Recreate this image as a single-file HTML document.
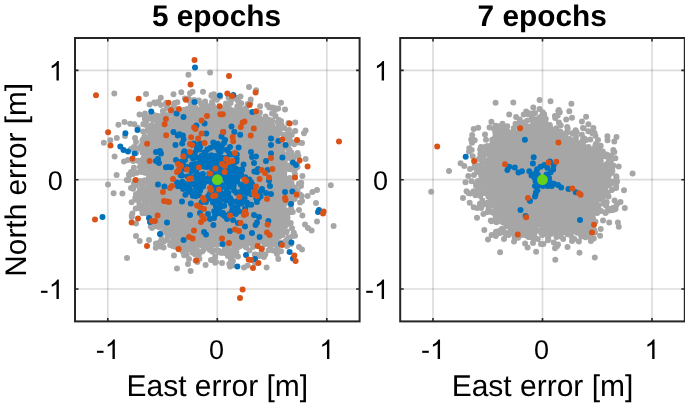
<!DOCTYPE html>
<html><head><meta charset="utf-8"><style>
html,body{margin:0;padding:0;background:#fff;overflow:hidden;}
svg{display:block;will-change:transform;}
text{font-family:"Liberation Sans", sans-serif;fill:#000;}
</style></head><body>
<svg width="685" height="406" viewBox="0 0 685 406" text-rendering="geometricPrecision">
<path d="M107.8 38.0V321.4M217.3 38.0V321.4M326.8 38.0V321.4" stroke="#262626" stroke-opacity="0.16" stroke-width="1.7" fill="none"/>
<path d="M75.0 289.0H359.6M75.0 179.7H359.6M75.0 70.4H359.6" stroke="#262626" stroke-opacity="0.16" stroke-width="1.7" fill="none"/>
<path d="M433.0 38.0V321.4M542.5 38.0V321.4M652.0 38.0V321.4" stroke="#262626" stroke-opacity="0.16" stroke-width="1.7" fill="none"/>
<path d="M400.2 289.0H684.8M400.2 179.7H684.8M400.2 70.4H684.8" stroke="#262626" stroke-opacity="0.16" stroke-width="1.7" fill="none"/>
<path d="M147.6 134.8L155.0 127.7L165.9 120.8L176.7 114.7L188.3 112.4L201.7 111.8L219.2 113.0L241.4 112.3L253.0 117.5L265.7 122.5L276.7 131.2L283.8 143.8L287.2 161.7L287.1 184.0L285.5 201.9L284.4 220.2L281.2 234.1L269.2 241.1L253.5 245.2L237.2 246.5L214.9 247.0L197.1 244.3L182.0 239.9L168.6 232.9L158.8 224.1L151.7 213.4L147.6 197.2L146.0 179.5L145.8 161.8L146.2 145.7Z" fill="#a6a6a6"/>
<path d="M171.7 178.7h0M207.3 206.3h0M269.3 107.6h0M277.9 167.6h0M257.0 131.5h0M194.8 129.3h0M205.1 178.8h0M167.7 131.9h0M165.0 172.3h0M226.8 204.7h0M147.1 149.9h0M276.9 209.6h0M180.5 195.0h0M270.9 164.3h0M156.7 188.1h0M253.7 210.4h0M193.6 168.7h0M218.0 228.8h0M220.3 160.6h0M214.6 96.2h0M197.0 121.2h0M223.7 243.3h0M167.5 181.9h0M174.3 188.0h0M273.1 182.8h0M227.7 166.4h0M161.6 180.3h0M213.7 154.2h0M188.3 186.3h0M239.1 199.4h0M157.4 194.4h0M282.6 232.3h0M274.4 136.2h0M279.0 210.1h0M263.3 135.2h0M145.0 201.6h0M155.8 139.3h0M255.2 171.5h0M183.9 174.9h0M218.4 128.0h0M235.8 235.6h0M256.5 119.4h0M249.1 187.4h0M219.5 130.5h0M243.7 160.9h0M230.4 147.9h0M282.1 145.9h0M229.4 121.4h0M218.1 157.9h0M188.5 127.4h0M248.4 167.6h0M179.2 179.5h0M164.0 210.4h0M286.5 212.6h0M164.0 225.4h0M234.8 239.9h0M192.4 151.2h0M225.9 109.5h0M276.6 151.3h0M237.6 229.4h0M194.2 192.0h0M208.8 140.1h0M269.0 237.5h0M178.8 135.9h0M212.3 108.7h0M179.1 196.6h0M207.3 146.5h0M250.9 208.1h0M172.4 186.9h0M181.2 134.6h0M207.0 206.4h0M181.1 148.9h0M180.4 150.2h0M224.6 193.5h0M234.1 134.4h0M225.9 103.6h0M241.3 142.5h0M270.0 178.3h0M275.3 147.6h0M178.7 249.2h0M278.9 223.1h0M251.2 122.5h0M204.2 118.9h0M255.8 209.2h0M272.9 188.2h0M224.1 241.7h0M208.0 161.0h0M187.0 136.7h0M276.7 161.4h0M198.4 199.4h0M216.7 205.8h0M205.2 212.5h0M258.9 133.2h0M215.6 175.8h0M166.2 164.0h0M175.4 205.4h0M286.6 146.2h0M280.4 156.8h0M253.3 221.3h0M233.8 242.6h0M157.3 135.4h0M164.8 191.8h0M256.2 152.6h0M219.3 120.2h0M272.9 202.2h0M245.7 215.0h0M195.0 233.1h0M204.2 120.2h0M184.6 113.4h0M199.7 111.9h0M170.4 223.7h0M277.9 127.6h0M224.2 139.4h0M232.2 135.4h0M250.1 231.0h0M214.8 242.5h0M265.7 192.0h0M195.1 141.3h0M261.7 187.5h0M150.0 179.6h0M229.8 146.1h0M217.1 154.2h0M207.3 144.9h0M198.1 229.6h0M250.1 178.1h0M243.5 157.8h0M234.5 247.1h0M277.7 163.4h0M156.2 200.7h0M222.2 154.6h0M199.2 243.4h0M232.0 220.9h0M289.3 223.5h0M261.5 204.3h0M243.7 202.5h0M199.5 202.4h0M279.9 226.8h0M274.2 198.2h0M188.9 137.8h0M254.6 245.7h0M261.3 165.8h0M190.0 207.3h0M251.4 162.1h0M251.1 198.1h0M163.2 127.8h0M287.1 138.6h0M277.0 183.6h0M192.4 181.5h0M259.8 120.8h0M255.6 235.3h0M174.4 198.9h0M167.5 190.3h0M185.3 130.4h0M182.9 167.4h0M264.4 230.0h0M159.8 201.8h0M172.9 184.2h0M191.1 224.0h0M169.0 218.1h0M256.5 145.1h0M144.5 161.3h0M143.3 124.1h0M234.3 248.3h0M142.4 161.7h0M194.2 120.8h0M167.4 236.2h0M231.1 128.5h0M255.8 149.4h0M183.5 158.8h0M231.2 253.6h0M286.0 225.3h0M148.8 172.9h0M278.7 251.4h0M175.1 111.8h0M250.7 240.7h0M246.3 160.0h0M233.1 152.9h0M235.8 190.2h0M200.5 126.3h0M286.1 166.1h0M255.6 222.6h0M257.0 224.1h0M210.9 156.5h0M206.1 113.7h0M197.3 216.3h0M182.3 114.0h0M272.7 242.5h0M202.7 134.4h0M227.0 149.4h0M187.0 229.7h0M300.0 194.4h0M244.4 170.4h0M253.3 185.8h0M289.1 238.2h0M153.7 156.6h0M220.4 108.2h0M244.2 146.5h0M179.6 153.4h0M184.5 223.5h0M216.7 184.1h0M293.8 232.8h0M220.8 192.9h0M261.6 155.0h0M228.0 251.5h0M200.2 219.8h0M173.6 109.9h0M240.7 184.2h0M242.7 121.7h0M280.1 216.7h0M248.6 187.4h0M161.8 223.2h0M266.0 182.0h0M214.1 162.5h0M159.7 144.0h0M225.9 184.0h0M224.2 235.9h0M181.3 144.4h0M217.7 194.8h0M228.6 156.2h0M279.9 158.9h0M210.0 231.9h0M193.2 223.6h0M213.1 150.6h0M208.5 111.6h0M219.0 221.9h0M251.5 167.7h0M267.2 177.0h0M255.9 178.0h0M143.9 188.9h0M247.9 112.0h0M176.0 175.9h0M247.4 143.1h0M217.9 251.2h0M177.8 178.2h0M288.8 187.4h0M264.0 150.7h0M174.0 186.7h0M205.6 225.5h0M279.2 131.5h0M254.2 163.9h0M236.4 117.3h0M200.7 140.5h0M252.3 138.3h0M164.2 156.1h0M211.1 150.9h0M235.8 123.1h0M286.0 213.9h0M243.0 234.7h0M288.1 146.8h0M185.4 113.6h0M253.6 190.7h0M250.3 131.0h0M161.5 191.5h0M286.8 165.7h0M150.5 135.4h0M265.9 211.6h0M143.9 147.1h0M169.3 211.3h0M175.1 182.2h0M272.1 204.5h0M279.3 198.3h0M284.3 162.7h0M249.3 200.9h0M221.6 190.9h0M223.0 160.7h0M289.4 203.0h0M134.9 181.0h0M164.3 167.9h0M224.9 135.3h0M174.6 184.8h0M211.6 162.4h0M144.0 157.1h0M224.6 187.4h0M279.4 219.0h0M249.9 118.6h0M186.4 248.3h0M280.4 158.6h0M205.5 111.9h0M174.4 209.0h0M271.3 197.9h0M242.7 158.2h0M227.8 247.3h0M267.6 196.9h0M131.8 215.6h0M218.0 154.1h0M244.8 233.0h0M275.0 134.4h0M272.9 133.4h0M227.9 154.3h0M182.4 246.7h0M178.8 235.5h0M205.7 214.8h0M241.2 182.9h0M156.5 204.8h0M214.2 151.4h0M255.0 263.6h0M157.0 217.8h0M245.2 229.9h0M209.4 174.4h0M215.2 227.8h0M257.4 125.3h0M205.6 186.9h0M152.4 157.6h0M158.5 226.6h0M271.0 142.1h0M241.0 221.3h0M292.0 186.2h0M291.0 208.2h0M168.8 228.2h0M232.1 181.8h0M203.2 231.6h0M251.4 206.7h0M223.2 134.9h0M195.8 190.1h0M242.4 175.8h0M304.0 133.3h0M201.0 196.3h0M222.8 170.4h0M216.8 164.9h0M155.7 161.0h0M196.2 126.5h0M274.5 154.7h0M152.7 191.3h0M279.6 229.2h0M238.8 220.4h0M186.5 116.3h0M171.7 152.8h0M176.1 173.8h0M161.0 232.9h0M161.3 167.0h0M284.6 193.2h0M226.4 160.3h0M160.8 201.7h0M261.6 158.7h0M249.9 195.6h0M148.6 186.3h0M177.3 208.1h0M166.2 216.6h0M188.6 185.8h0M209.8 142.4h0M273.3 195.9h0M237.6 224.6h0M182.8 234.8h0M300.1 202.4h0M281.3 203.1h0M170.0 127.8h0M217.9 112.5h0M254.5 236.0h0M195.2 254.4h0M256.1 136.1h0M264.7 157.9h0M213.2 199.6h0M174.0 204.0h0M202.1 139.1h0M227.4 171.3h0M142.2 211.0h0M202.3 169.2h0M218.3 183.4h0M161.1 154.7h0M277.6 122.3h0M290.9 141.5h0M279.1 205.4h0M197.2 251.3h0M212.3 166.5h0M232.7 147.2h0M152.3 195.3h0M280.7 140.2h0M269.0 228.3h0M230.3 111.1h0M192.4 188.5h0M241.7 194.1h0M213.7 203.3h0M280.0 170.0h0M216.5 234.4h0M144.7 147.1h0M236.4 97.7h0M240.4 236.1h0M230.0 200.5h0M173.9 105.7h0M257.9 137.5h0M163.5 140.1h0M212.9 221.5h0M205.9 155.4h0M262.2 248.0h0M232.7 208.5h0M284.7 166.2h0M148.8 194.9h0M147.4 138.2h0M163.3 142.1h0M214.8 156.7h0M196.7 206.7h0M160.7 123.1h0M211.7 95.1h0M253.4 233.3h0M225.7 179.7h0M212.4 211.4h0M230.4 242.7h0M207.4 174.4h0M277.3 210.6h0M221.0 190.7h0M272.4 198.5h0M172.4 145.9h0M239.5 158.9h0M205.0 204.6h0M190.2 229.9h0M232.8 230.3h0M284.3 127.9h0M236.2 132.2h0M265.2 180.2h0M230.0 155.7h0M178.8 165.4h0M221.3 172.7h0M240.2 134.1h0M197.2 128.2h0M181.2 179.1h0M226.4 245.8h0M183.1 197.9h0M231.8 142.7h0M225.3 139.9h0M215.0 179.7h0M284.3 223.4h0M218.6 114.0h0M281.0 102.7h0M223.4 149.9h0M161.6 143.3h0M225.8 135.5h0M167.7 128.3h0M207.8 149.7h0M242.1 225.8h0M165.0 122.2h0M232.9 169.3h0M270.2 208.7h0M165.2 141.6h0M171.1 165.8h0M160.6 152.9h0M208.1 245.8h0M237.6 244.0h0M195.7 166.4h0M291.7 198.1h0M263.1 156.6h0M208.5 153.3h0M197.5 174.4h0M228.7 245.3h0M255.2 117.5h0M239.8 114.9h0M139.6 199.3h0M243.0 121.4h0M281.6 145.8h0M203.4 188.3h0M250.3 103.2h0M160.1 154.0h0M282.0 229.4h0M246.8 151.5h0M174.6 199.7h0M280.2 148.9h0M198.7 154.7h0M192.5 248.6h0M166.7 146.1h0M218.5 250.5h0M290.4 186.9h0M284.5 193.8h0M211.9 181.7h0M190.1 167.7h0M149.4 127.9h0M236.6 211.0h0M160.9 151.6h0M230.2 239.3h0M247.7 265.4h0M182.8 176.0h0M227.3 115.0h0M287.9 192.4h0M201.0 103.7h0M245.5 243.1h0M182.3 238.7h0M171.2 145.2h0M244.7 191.1h0M230.4 198.7h0M248.6 148.1h0M189.4 161.3h0M220.6 191.4h0M284.9 161.1h0M207.2 238.4h0M170.3 222.2h0M228.0 179.0h0M260.8 120.3h0M205.1 212.7h0M246.2 144.7h0M154.5 169.3h0M181.4 189.1h0M203.2 172.1h0M226.0 121.1h0M269.1 141.0h0M146.8 158.3h0M259.4 200.4h0M205.4 235.2h0M206.0 238.8h0M195.9 169.5h0M158.3 170.5h0M292.0 228.3h0M234.4 122.9h0M267.0 189.5h0M217.9 120.1h0M224.0 166.6h0M287.5 222.1h0M236.8 130.8h0M273.4 129.3h0M183.9 140.6h0M260.6 144.6h0M231.4 146.4h0M262.8 121.8h0M206.6 172.2h0M223.5 185.9h0M182.9 236.9h0M257.4 147.6h0M233.4 172.9h0M213.7 160.8h0M223.1 129.6h0M169.1 126.4h0M233.8 134.4h0M191.2 196.4h0M245.9 163.4h0M269.0 242.1h0M166.1 161.3h0M252.8 209.6h0M157.1 159.8h0M267.8 239.6h0M195.4 216.8h0M178.7 167.8h0M153.0 185.4h0M151.4 168.4h0M224.2 203.9h0M232.0 114.0h0M186.1 231.5h0M253.5 147.2h0M150.1 154.5h0M156.9 132.6h0M215.9 177.5h0M228.4 116.3h0M191.0 115.4h0M288.5 152.7h0M212.0 184.6h0M287.4 218.3h0M270.9 235.0h0M220.7 206.4h0M247.1 116.3h0M193.0 152.8h0M262.4 163.8h0M192.4 188.2h0M237.8 191.5h0M201.0 243.2h0M252.2 207.9h0M220.7 194.5h0M188.9 239.9h0M169.9 204.2h0M204.9 117.3h0M211.4 95.7h0M211.0 197.7h0M142.7 186.3h0M212.4 220.9h0M283.5 156.4h0M145.3 206.8h0M218.8 252.3h0M181.2 199.2h0M229.9 190.2h0M175.6 200.8h0M205.1 138.5h0M212.4 185.5h0M174.2 121.8h0M254.2 171.6h0M232.1 123.3h0M218.3 207.6h0M264.0 209.0h0M200.7 212.3h0M234.2 175.5h0M240.3 145.2h0M288.4 237.4h0M278.5 230.8h0M224.0 144.6h0M280.7 169.9h0M265.8 201.2h0M136.9 172.8h0M228.5 110.8h0M235.8 203.8h0M236.8 184.8h0M232.8 211.2h0M268.6 119.7h0M251.3 190.6h0M173.8 114.8h0M170.4 242.5h0M176.7 175.0h0M204.9 234.2h0M158.9 226.9h0M241.5 236.8h0M203.6 241.3h0M189.9 153.8h0M283.8 148.0h0M172.2 213.3h0M271.1 213.1h0M208.6 244.1h0M287.2 215.1h0M219.4 108.4h0M230.2 122.5h0M190.6 204.8h0M233.8 249.2h0M226.3 165.7h0M263.1 201.7h0M178.5 200.1h0M241.9 126.7h0M174.7 196.4h0M173.4 237.9h0M266.0 171.4h0M262.3 141.3h0M272.0 162.9h0M215.0 239.9h0M188.6 98.5h0M223.4 200.9h0M280.6 242.6h0M239.9 246.2h0M253.4 146.0h0M284.8 229.9h0M169.2 119.5h0M162.1 120.2h0M182.9 251.8h0M253.2 146.0h0M165.2 203.8h0M218.6 231.6h0M206.6 105.8h0M167.3 183.7h0M255.8 189.4h0M223.9 125.0h0M169.5 128.9h0M236.0 251.8h0M188.9 141.9h0M207.7 144.8h0M170.1 244.9h0M250.5 209.3h0M166.6 175.1h0M278.3 259.1h0M172.4 187.1h0M284.9 184.8h0M222.6 140.4h0M157.9 175.8h0M197.1 250.6h0M165.1 161.3h0M286.1 219.9h0M277.2 246.6h0M251.1 114.2h0M196.3 139.1h0M229.2 124.8h0M220.3 185.4h0M246.3 245.5h0M186.8 175.0h0M218.7 156.1h0M274.5 194.1h0M279.9 169.4h0M228.6 157.8h0M238.6 109.8h0M234.8 233.5h0M239.5 226.3h0M287.5 210.8h0M232.9 226.8h0M250.8 217.7h0M258.5 177.6h0M239.4 208.3h0M165.1 222.0h0M156.2 156.8h0M241.5 228.6h0M207.9 234.1h0M211.4 208.5h0M277.5 190.6h0M227.9 256.1h0M223.4 200.4h0M279.6 217.1h0M238.5 119.8h0M278.4 198.1h0M255.8 163.7h0M218.6 139.1h0M186.7 254.8h0M277.3 223.7h0M154.6 167.2h0M277.9 181.1h0M217.9 180.2h0M177.3 152.5h0M254.5 245.0h0M177.4 154.5h0M224.7 247.9h0M173.2 246.2h0M152.8 159.0h0M244.8 230.0h0M260.7 127.8h0M189.0 166.6h0M254.8 219.9h0M204.8 138.2h0M167.7 200.1h0M179.7 241.4h0M198.2 177.6h0M192.4 118.6h0M291.5 169.5h0M203.0 243.1h0M236.8 228.5h0M292.9 189.4h0M176.0 218.5h0M198.6 186.9h0M173.3 159.0h0M144.3 161.0h0M258.0 146.3h0M241.6 142.4h0M252.1 168.7h0M232.0 225.9h0M252.1 225.3h0M250.6 206.2h0M202.5 221.2h0M264.5 152.6h0M272.7 182.4h0M237.1 236.8h0M155.4 191.9h0M257.3 194.2h0M267.6 160.2h0M297.1 163.9h0M156.2 160.6h0M246.4 180.1h0M242.5 198.1h0M258.4 233.3h0M260.3 119.2h0M174.2 139.5h0M247.9 231.9h0M274.1 108.1h0M285.2 244.2h0M276.7 161.5h0M218.8 232.1h0M247.3 148.7h0M165.9 204.5h0M267.5 181.2h0M248.0 139.6h0M193.3 225.4h0M165.8 199.7h0M167.1 239.7h0M148.3 209.4h0M239.2 110.8h0M179.0 182.2h0M161.4 127.9h0M278.0 133.8h0M150.7 226.4h0M271.3 139.9h0M165.1 166.4h0M151.0 209.0h0M246.9 232.1h0M154.5 139.2h0M278.2 148.8h0M261.7 191.3h0M152.3 130.2h0M290.1 196.5h0M252.7 136.9h0M250.9 156.5h0M270.5 151.7h0M232.7 213.3h0M279.6 130.5h0M188.3 141.1h0M156.3 224.5h0M223.0 241.1h0M202.5 200.9h0M279.1 174.9h0M245.7 129.0h0M181.5 189.7h0M171.0 205.7h0M180.6 114.6h0M183.8 140.2h0M216.0 137.8h0M178.0 232.5h0M186.1 117.4h0M195.9 210.2h0M155.8 247.8h0M220.7 145.1h0M201.0 110.3h0M253.4 113.9h0M169.2 153.7h0M204.5 217.1h0M220.2 96.8h0M206.2 120.8h0M272.9 223.0h0M272.2 200.2h0M163.3 231.2h0M194.5 168.2h0M232.6 177.2h0M162.2 181.5h0M244.7 229.1h0M249.2 129.6h0M267.4 140.9h0M263.3 213.9h0M180.9 143.6h0M126.8 180.1h0M194.8 108.1h0M249.5 204.4h0M222.1 218.8h0M165.3 162.9h0M200.8 119.2h0M141.8 171.0h0M280.9 208.6h0M160.1 196.5h0M275.2 134.8h0M178.5 136.6h0M191.2 219.3h0M216.6 129.7h0M282.3 186.1h0M183.9 119.8h0M243.1 198.7h0M196.0 136.6h0M241.2 157.5h0M265.5 243.9h0M199.2 242.9h0M238.0 141.7h0M176.3 242.7h0M152.9 193.7h0M266.8 127.8h0M268.5 235.4h0M291.1 166.0h0M236.4 177.0h0M160.4 167.6h0M196.7 248.3h0M258.0 216.0h0M236.3 110.9h0M250.8 158.9h0M250.6 130.0h0M142.5 152.4h0M273.2 244.3h0M297.5 190.7h0M217.2 211.3h0M249.2 113.6h0M232.9 138.5h0M264.9 197.6h0M164.6 160.5h0M280.2 121.6h0M216.2 127.1h0M249.9 134.3h0M159.6 199.6h0M157.8 191.3h0M204.3 189.6h0M230.4 190.1h0M294.7 189.0h0M286.8 222.3h0M206.2 190.5h0M196.7 209.5h0M246.4 173.6h0M193.3 118.7h0M161.8 175.5h0M176.6 127.8h0M236.5 141.0h0M202.7 128.9h0M278.2 178.1h0M181.5 144.0h0M184.6 134.2h0M144.3 180.5h0M215.8 176.9h0M225.5 166.5h0M301.2 182.7h0M161.6 239.4h0M157.7 116.9h0M217.2 213.5h0M278.5 155.9h0M237.1 234.0h0M263.9 201.3h0M141.3 184.5h0M224.0 163.5h0M150.7 187.3h0M269.8 217.5h0M198.2 239.8h0M140.7 160.8h0M163.7 154.0h0M277.6 201.7h0M181.1 121.7h0M185.4 149.8h0M158.3 172.8h0M256.4 135.2h0M200.6 138.8h0M286.6 179.2h0M180.9 165.2h0M170.4 182.7h0M204.8 137.7h0M254.7 254.5h0M226.9 245.2h0M153.2 114.5h0M256.1 217.4h0M181.6 114.7h0M190.9 170.3h0M178.5 175.1h0M280.4 179.4h0M255.2 233.4h0M280.9 200.3h0M158.6 129.6h0M188.5 112.6h0M226.8 127.2h0M270.5 185.9h0M270.1 215.9h0M203.9 154.1h0M288.4 123.1h0M282.1 212.7h0M171.1 160.4h0M192.4 148.8h0M219.5 197.0h0M259.9 152.3h0M146.8 149.3h0M180.7 209.3h0M249.2 124.9h0M254.1 200.0h0M154.7 193.7h0M227.2 191.9h0M170.3 173.9h0M217.1 222.7h0M290.2 191.2h0M222.4 123.8h0M254.2 124.5h0M188.5 133.3h0M221.4 206.0h0M227.2 120.2h0M168.0 129.9h0M224.7 131.6h0M185.9 220.4h0M233.7 98.5h0M182.0 144.1h0M195.4 143.2h0M255.8 166.0h0M163.2 202.7h0M282.8 173.3h0M227.2 217.4h0M163.5 172.9h0M257.1 201.1h0M162.5 143.3h0M258.2 130.2h0M146.9 213.0h0M193.4 116.1h0M137.4 181.6h0M231.5 128.5h0M217.0 250.0h0M294.2 144.3h0M254.4 167.8h0M247.4 193.4h0M204.7 155.3h0M206.9 211.7h0M288.6 182.8h0M278.5 181.1h0M291.7 134.9h0M254.6 236.9h0M235.2 158.2h0M270.8 129.9h0M235.5 138.5h0M176.9 117.5h0M260.8 140.9h0M247.7 212.9h0M226.4 208.2h0M219.9 235.2h0M207.6 151.9h0M227.3 128.6h0M195.2 151.0h0M272.0 120.6h0M229.1 165.4h0M276.2 235.5h0M196.2 113.0h0M164.3 194.6h0M276.5 174.6h0M224.2 124.5h0M240.5 108.8h0M219.5 229.7h0M233.4 149.6h0M245.8 245.0h0M183.1 245.2h0M274.0 169.7h0M191.6 227.2h0M221.1 175.1h0M156.9 211.2h0M244.2 117.6h0M208.7 115.4h0M290.7 180.6h0M236.8 223.3h0M224.6 205.4h0M249.7 168.2h0M176.3 113.2h0M268.2 168.9h0M153.4 160.1h0M239.9 210.2h0M188.6 131.0h0M153.6 195.9h0M249.4 250.5h0M185.5 232.4h0M241.2 219.4h0M247.7 103.9h0M282.6 188.1h0M249.8 208.2h0M190.0 237.1h0M202.4 238.2h0M216.9 109.0h0M246.0 117.2h0M265.3 197.2h0M184.9 233.3h0M238.0 207.6h0M269.4 171.1h0M144.5 136.4h0M242.6 132.8h0M265.5 122.0h0M160.8 155.7h0M241.5 138.8h0M142.3 144.2h0M272.7 187.5h0M197.4 261.9h0M178.8 174.1h0M192.5 128.0h0M220.0 230.2h0M242.5 115.4h0M252.8 223.3h0M256.2 178.0h0M259.9 170.5h0M237.8 205.0h0M192.9 127.0h0M219.8 221.9h0M185.0 238.7h0M284.1 204.6h0M180.5 235.2h0M245.7 157.3h0M277.2 196.6h0M180.8 232.3h0M253.1 246.9h0M279.2 171.6h0M161.1 115.9h0M276.5 153.6h0M253.6 222.7h0M218.6 139.9h0M215.0 238.7h0M203.4 171.7h0M286.8 239.8h0M218.6 162.0h0M160.1 126.6h0M171.3 219.4h0M229.4 123.6h0M150.4 163.8h0M209.8 206.9h0M203.2 244.4h0M164.9 222.2h0M155.0 222.7h0M291.6 183.2h0M199.3 149.0h0M149.7 203.0h0M191.6 182.2h0M265.7 121.9h0M260.6 232.5h0M250.3 219.0h0M192.7 145.9h0M197.9 168.6h0M241.6 213.8h0M203.2 193.2h0M235.8 143.1h0M272.4 152.0h0M211.8 240.6h0M249.9 190.6h0M200.0 138.8h0M237.9 242.4h0M212.8 105.3h0M256.7 172.3h0M183.9 127.5h0M183.8 174.0h0M220.3 170.5h0M186.2 222.0h0M214.3 97.5h0M178.4 144.1h0M204.0 244.1h0M147.0 156.8h0M162.2 219.4h0M289.7 143.2h0M206.3 146.4h0M240.1 115.1h0M152.4 176.9h0M156.4 140.8h0M165.1 227.2h0M247.3 127.7h0M247.8 173.0h0M211.0 166.6h0M255.8 179.5h0M185.6 251.4h0M258.3 239.4h0M145.8 192.1h0M290.8 158.7h0M259.2 129.6h0M151.8 190.1h0M238.0 256.5h0M243.1 113.0h0M242.8 164.8h0M197.2 164.3h0M275.5 241.4h0M261.2 168.1h0M205.6 201.2h0M236.3 171.9h0M212.5 243.5h0M185.8 202.0h0M267.8 120.5h0M202.2 200.6h0M284.7 161.0h0M214.0 160.1h0M182.4 142.1h0M150.5 191.2h0M150.6 116.0h0M168.7 158.1h0M282.1 200.6h0M144.9 181.8h0M267.2 236.0h0M203.4 113.9h0M220.4 191.5h0M264.5 156.0h0M189.0 169.2h0M202.2 210.7h0M205.4 157.7h0M184.0 131.9h0M211.9 131.9h0M209.1 222.2h0M196.7 232.1h0M266.6 234.0h0M180.3 226.9h0M238.0 120.1h0M243.6 242.8h0M177.1 183.7h0M152.4 126.9h0M183.7 170.1h0M216.9 216.2h0M289.5 183.4h0M207.8 178.0h0M173.5 94.2h0M192.8 123.6h0M184.9 98.5h0M170.3 219.4h0M213.2 218.8h0M161.5 153.2h0M262.0 230.1h0M151.4 125.3h0M207.0 199.7h0M283.5 134.7h0M141.1 146.3h0M170.6 141.2h0M286.7 202.3h0M209.9 115.2h0M161.0 105.0h0M153.2 134.2h0M180.2 197.5h0M195.7 110.2h0M208.1 207.7h0M197.2 128.6h0M186.0 117.6h0M183.9 110.0h0M294.9 174.3h0M216.3 224.6h0M271.9 243.0h0M187.5 125.8h0M147.2 164.6h0M201.9 114.5h0M195.6 160.7h0M238.2 182.4h0M235.2 220.6h0M263.0 126.3h0M211.6 227.6h0M183.1 189.7h0M284.7 184.5h0M220.9 214.7h0M260.5 160.6h0M156.2 136.9h0M199.4 216.0h0M198.9 100.5h0M200.0 224.2h0M250.1 162.0h0M152.0 151.0h0M223.3 218.0h0M188.9 216.2h0M173.1 172.0h0M246.7 137.7h0M221.6 166.0h0M168.3 153.2h0M210.2 149.7h0M263.9 230.3h0M143.1 139.3h0M196.1 153.5h0M246.1 240.5h0M260.9 253.8h0M227.0 231.8h0M161.6 140.4h0M201.3 211.4h0M280.1 142.7h0M276.1 164.1h0M253.1 176.2h0M219.2 154.6h0M204.8 143.1h0M236.1 187.3h0M194.7 114.5h0M247.6 189.3h0M276.1 197.6h0M207.4 149.0h0M268.3 206.0h0M240.0 245.3h0M274.5 191.4h0M232.5 240.2h0M226.2 146.1h0M265.5 116.4h0M192.3 187.9h0M162.8 186.9h0M151.4 147.0h0M205.8 238.8h0M164.5 130.4h0M236.6 152.5h0M204.3 226.5h0M243.2 133.5h0M232.3 216.6h0M186.1 248.3h0M295.2 122.6h0M165.0 207.6h0M271.6 134.1h0M288.2 194.8h0M194.4 121.3h0M277.7 235.7h0M177.7 152.9h0M169.4 215.7h0M258.9 131.5h0M174.2 234.8h0M268.3 177.8h0M200.2 126.7h0M219.0 184.7h0M182.7 132.2h0M223.8 165.9h0M224.6 225.8h0M224.8 128.3h0M221.2 223.0h0M256.0 242.0h0M235.4 224.2h0M242.1 109.6h0M249.1 143.0h0M270.6 156.1h0M270.6 134.6h0M159.8 242.3h0M249.8 222.1h0M215.1 136.3h0M210.0 127.2h0M177.2 132.1h0M151.2 150.6h0M248.9 199.1h0M231.5 170.9h0M248.3 157.2h0M182.3 131.2h0M197.2 222.8h0M249.7 207.7h0M150.0 153.2h0M151.3 179.6h0M206.8 161.6h0M183.3 127.6h0M195.7 161.8h0M194.5 110.8h0M279.5 236.2h0M209.1 224.7h0M195.2 241.4h0M176.3 122.6h0M216.0 222.5h0M221.6 253.0h0M289.2 141.5h0M179.6 181.0h0M270.4 209.1h0M283.4 170.4h0M163.7 125.4h0M190.2 158.8h0M133.1 161.0h0M251.9 172.6h0M169.2 232.7h0M209.9 150.2h0M214.3 114.5h0M202.8 124.1h0M227.6 157.9h0M284.9 210.0h0M252.7 134.1h0M213.6 151.2h0M236.6 204.9h0M212.4 172.2h0M210.5 167.0h0M199.3 109.4h0M270.8 145.3h0M240.5 115.6h0M182.3 146.1h0M232.4 265.5h0M161.0 173.2h0M257.4 239.8h0M145.3 166.5h0M150.6 214.9h0M193.6 151.8h0M290.9 244.1h0M278.8 119.9h0M212.9 201.1h0M264.2 199.5h0M204.6 204.2h0M212.7 197.1h0M180.2 233.9h0M172.1 152.7h0M186.0 155.7h0M172.5 142.8h0M266.5 143.0h0M280.0 210.1h0M222.1 252.0h0M229.6 183.6h0M177.3 189.3h0M166.3 207.1h0M151.6 218.3h0M235.9 228.7h0M268.5 250.3h0M193.5 240.3h0M235.0 242.3h0M220.8 107.6h0M240.7 173.8h0M235.0 157.6h0M188.0 142.9h0M279.1 163.2h0M185.5 116.0h0M287.0 157.0h0M259.1 137.8h0M161.4 156.9h0M181.9 196.1h0M209.2 192.6h0M259.3 202.0h0M218.9 128.6h0M289.4 197.7h0M259.0 213.6h0M227.3 173.4h0M231.1 251.1h0M168.5 127.4h0M157.8 224.2h0M167.3 204.7h0M214.3 213.1h0M240.0 111.6h0M241.7 227.5h0M220.2 144.5h0M248.3 187.4h0M241.8 146.8h0M152.0 179.5h0M253.1 121.6h0M266.9 200.0h0M243.6 185.5h0M209.1 191.3h0M230.0 193.1h0M160.4 209.5h0M229.6 186.1h0M230.4 193.8h0M205.5 225.0h0M205.4 230.0h0M222.5 195.3h0M180.6 138.7h0M258.6 217.9h0M204.7 134.2h0M171.4 211.7h0M265.5 151.0h0M292.8 158.5h0M204.5 160.7h0M229.5 227.5h0M237.8 225.0h0M205.7 152.2h0M274.9 148.8h0M271.9 214.6h0M164.2 126.4h0M196.2 227.9h0M254.7 140.4h0M154.6 209.6h0M265.3 198.6h0M224.6 134.1h0M216.4 170.6h0M184.4 217.5h0M194.1 130.7h0M142.5 170.8h0M219.1 144.5h0M195.3 167.3h0M216.8 170.4h0M212.1 136.4h0M260.1 230.3h0M230.6 103.0h0M195.3 112.0h0M196.7 210.4h0M242.4 161.8h0M172.8 210.5h0M267.1 177.1h0M201.6 228.5h0M157.2 124.5h0M225.2 164.1h0M244.0 194.6h0M267.4 224.2h0M195.1 215.4h0M215.2 235.2h0M268.1 165.3h0M179.0 247.0h0M187.6 134.3h0M153.3 146.9h0M195.5 187.3h0M167.9 184.0h0M225.7 253.3h0M195.6 260.8h0M281.5 192.2h0M227.9 147.0h0M240.2 129.7h0M205.0 122.3h0M228.9 218.7h0M265.7 184.3h0M184.5 207.0h0M236.6 129.9h0M238.1 144.9h0M261.6 121.7h0M273.0 211.5h0M216.2 219.0h0M181.2 119.0h0M247.2 184.9h0M258.4 236.3h0M263.7 167.0h0M192.1 210.7h0M246.3 212.5h0M219.9 159.2h0M218.7 161.9h0M205.1 198.4h0M219.3 139.2h0M212.7 123.2h0M166.1 141.8h0M281.0 251.3h0M160.1 157.6h0M152.3 151.1h0M237.7 151.1h0M202.3 218.8h0M155.3 179.7h0M210.7 247.0h0M164.3 197.3h0M150.7 135.0h0M220.6 192.2h0M200.2 243.3h0M273.6 180.4h0M270.1 208.7h0M204.0 186.4h0M174.2 223.9h0M179.0 132.9h0M224.8 149.4h0M226.8 222.0h0M200.6 187.5h0M225.9 224.8h0M206.9 211.2h0M160.2 224.7h0M241.3 198.0h0M247.2 159.4h0M272.3 180.4h0M175.1 191.2h0M265.5 189.9h0M207.8 158.3h0M197.2 100.8h0M189.7 219.7h0M209.1 174.2h0M253.4 118.8h0M232.7 212.1h0M284.8 157.3h0M144.6 213.1h0M202.6 235.5h0M165.9 122.3h0M234.0 200.9h0M210.5 109.1h0M283.6 224.4h0M249.4 192.5h0M223.7 234.7h0M232.9 133.0h0M195.5 199.6h0M173.8 119.7h0M188.1 122.9h0M278.0 205.6h0M231.1 198.6h0M225.3 112.8h0M162.0 201.5h0M270.5 217.9h0M235.6 122.2h0M245.4 124.7h0M231.6 252.5h0M285.5 144.7h0M199.0 147.1h0M154.2 172.6h0M195.2 107.5h0M282.5 234.9h0M179.6 154.2h0M253.1 209.7h0M279.1 224.3h0M223.7 204.9h0M275.6 167.3h0M172.9 185.6h0M291.3 202.6h0M246.6 232.8h0M246.2 230.5h0M282.5 215.6h0M135.7 208.5h0M281.0 120.9h0M239.8 246.0h0M215.4 202.0h0M224.0 133.4h0M184.5 122.3h0M290.6 182.2h0M205.1 174.8h0M257.5 120.0h0M253.6 149.2h0M210.5 131.1h0M135.9 199.8h0M207.9 194.0h0M251.0 236.3h0M187.1 109.1h0M183.0 196.9h0M252.7 205.3h0M233.3 145.1h0M178.7 180.4h0M228.7 207.4h0M251.3 191.9h0M204.7 231.4h0M225.5 182.4h0M209.6 221.8h0M246.9 233.7h0M229.8 125.0h0M190.1 249.5h0M205.1 236.4h0M208.9 113.4h0M139.9 166.8h0M155.8 192.9h0M216.4 205.9h0M277.3 180.9h0M210.5 128.0h0M268.4 125.1h0M207.1 209.1h0M245.7 121.2h0M155.8 128.7h0M171.3 228.0h0M153.1 189.6h0M167.3 202.9h0M203.0 91.8h0M250.5 197.5h0M271.8 168.8h0M259.4 255.9h0M191.6 242.3h0M228.1 238.8h0M216.9 142.0h0M178.7 184.1h0M146.0 180.2h0M187.0 152.7h0M211.0 237.5h0M200.6 167.9h0M208.6 181.9h0M140.0 180.9h0M161.8 200.7h0M189.5 232.7h0M204.5 138.0h0M187.4 218.1h0M276.5 238.4h0M238.2 226.3h0M168.2 216.7h0M157.1 209.3h0M160.3 202.4h0M167.3 164.3h0M258.9 116.5h0M210.3 238.1h0M234.3 242.3h0M143.3 124.2h0M229.6 129.4h0M183.3 160.2h0M156.4 142.7h0M176.1 247.1h0M233.3 250.6h0M141.5 167.8h0M221.2 186.6h0M219.6 148.1h0M152.8 130.4h0M202.2 251.4h0M240.0 201.5h0M283.8 204.4h0M295.1 169.3h0M179.5 179.7h0M242.7 111.0h0M274.5 209.6h0M258.3 234.0h0M189.5 100.9h0M215.9 212.5h0M167.3 218.0h0M226.4 162.8h0M231.5 214.0h0M153.6 210.2h0M195.0 205.5h0M158.7 199.6h0M176.6 112.0h0M158.8 196.0h0M212.6 225.7h0M274.0 210.9h0M149.3 131.8h0M205.6 152.7h0M265.2 217.5h0M229.5 239.9h0M290.3 193.1h0M282.5 213.3h0M226.1 179.4h0M211.4 152.0h0M199.7 211.2h0M162.8 215.3h0M235.4 195.0h0M194.0 100.1h0M262.3 140.2h0M285.3 193.6h0M210.4 220.1h0M201.7 215.9h0M247.0 123.5h0M174.3 165.6h0M137.7 127.8h0M200.4 239.5h0M205.5 122.5h0M221.9 189.7h0M192.5 210.0h0M275.1 172.9h0M255.5 222.6h0M203.9 215.7h0M191.1 105.7h0M206.0 120.0h0M229.7 185.4h0M234.3 194.1h0M194.2 191.8h0M194.3 140.9h0M190.2 238.8h0M150.6 186.3h0M179.5 243.5h0M214.2 153.0h0M197.6 236.1h0M137.6 160.7h0M196.8 153.9h0M232.5 121.8h0M260.6 157.4h0M252.4 141.9h0M264.9 138.4h0M216.1 177.2h0M237.8 131.0h0M249.6 164.5h0M159.9 202.1h0M154.5 128.8h0M192.3 150.0h0M152.7 148.1h0M251.1 202.7h0M184.3 171.2h0M257.6 177.3h0M238.8 163.9h0M226.1 214.9h0M274.8 165.4h0M174.3 242.2h0M270.3 213.9h0M166.3 185.1h0M218.4 204.9h0M233.3 237.6h0M214.2 150.1h0M257.1 128.6h0M169.7 207.0h0M172.2 154.9h0M150.8 194.5h0M232.2 175.5h0M201.2 195.8h0M217.2 223.0h0M262.9 208.2h0M172.3 222.1h0M177.1 233.2h0M179.3 181.2h0M217.3 199.5h0M193.1 193.0h0M217.2 130.8h0M284.5 135.8h0M245.0 121.6h0M257.7 225.3h0M260.0 170.4h0M270.9 243.2h0M228.1 147.9h0M250.3 144.9h0M238.9 221.2h0M262.2 253.9h0M265.3 216.4h0M204.8 211.3h0M173.2 119.5h0M199.2 242.0h0M158.9 133.3h0M210.0 199.8h0M294.1 199.1h0M184.3 210.8h0M176.6 240.8h0M289.1 140.9h0M256.4 243.5h0M243.2 234.4h0M210.2 228.6h0M237.2 106.5h0M192.6 252.8h0M265.4 125.2h0M229.8 126.1h0M222.3 219.9h0M228.9 243.5h0M182.5 187.5h0M129.2 175.7h0M155.5 103.4h0M212.1 101.9h0M220.9 194.1h0M181.3 92.2h0M175.9 155.4h0M203.5 218.8h0M216.9 99.7h0M273.0 201.5h0M234.6 117.5h0M253.1 135.3h0M136.0 185.3h0M153.7 177.3h0M179.4 242.8h0M165.4 226.0h0M191.1 170.6h0M184.1 187.6h0M206.7 167.9h0M221.2 110.8h0M171.9 173.3h0M194.3 108.2h0M292.9 167.2h0M258.9 212.4h0M279.1 184.8h0M207.8 217.4h0M203.1 178.1h0M203.6 160.3h0M239.7 191.9h0M257.3 204.5h0M261.0 151.8h0M258.1 204.0h0M143.9 196.4h0M215.2 256.7h0M245.9 108.3h0M184.2 123.9h0M233.1 128.9h0M239.1 186.5h0M144.9 118.7h0M240.4 194.2h0M276.3 211.6h0M226.8 111.4h0M170.2 164.9h0M234.8 120.4h0M185.1 232.1h0M282.5 224.7h0M192.4 242.7h0M239.5 176.2h0M174.4 204.7h0M217.5 191.5h0M263.1 179.8h0M213.3 224.3h0M176.9 220.3h0M212.6 240.0h0M181.9 202.7h0M256.5 142.2h0M150.0 154.4h0M168.1 203.2h0M194.1 155.6h0M236.8 216.1h0M263.5 173.8h0M249.9 149.8h0M170.4 224.0h0M182.3 228.2h0M257.6 233.2h0M173.0 160.4h0M183.1 237.5h0M161.6 211.6h0M209.4 118.5h0M194.0 146.5h0M168.6 173.6h0M189.4 237.9h0M289.2 150.7h0M248.8 214.3h0M248.1 177.4h0M154.8 128.4h0M180.4 160.4h0M173.6 189.1h0M229.3 263.9h0M160.9 174.7h0M214.1 181.6h0M254.9 137.7h0M154.4 162.5h0M166.3 163.0h0M206.8 217.6h0M189.4 109.7h0M211.3 124.8h0M247.4 146.9h0M247.5 180.5h0M221.4 192.6h0M233.3 129.2h0M157.0 115.8h0M198.9 193.6h0M209.9 249.9h0M200.8 240.6h0M231.7 194.4h0M274.6 216.2h0M161.7 182.8h0M263.9 187.0h0M161.3 179.2h0M198.0 197.9h0M210.2 175.2h0M170.1 113.2h0M167.4 144.1h0M192.7 247.5h0M256.8 118.1h0M235.9 175.5h0M200.4 217.6h0M151.5 214.5h0M224.2 215.5h0M263.3 226.4h0M192.2 177.4h0M237.7 164.7h0M221.6 191.8h0M159.0 184.3h0M226.8 251.3h0M259.0 194.3h0M150.5 132.9h0M241.2 185.4h0M188.1 180.7h0M286.1 241.8h0M160.6 201.7h0M256.4 178.9h0M174.2 112.9h0M188.5 126.2h0M203.2 163.5h0M172.2 183.0h0M293.6 157.7h0M262.2 125.1h0M199.2 226.3h0M175.6 216.4h0M157.1 214.1h0M188.9 211.1h0M204.6 156.1h0M237.2 154.4h0M226.8 194.4h0M202.4 245.6h0M190.7 213.0h0M211.0 201.8h0M250.2 125.0h0M183.7 240.4h0M203.4 250.0h0M201.9 105.1h0M168.8 198.0h0M247.6 127.3h0M239.4 215.2h0M149.4 170.6h0M209.9 119.2h0M230.9 128.1h0M178.5 195.2h0M229.9 141.7h0M176.3 188.6h0M221.3 196.2h0M197.7 132.0h0M224.3 134.2h0M146.1 145.0h0M135.3 197.7h0M197.3 245.8h0M211.1 203.8h0M201.5 172.5h0M228.1 140.8h0M241.5 181.8h0M273.0 250.5h0M222.4 194.4h0M219.9 187.6h0M224.9 199.3h0M241.1 216.1h0M163.2 182.0h0M273.1 162.6h0M256.4 242.2h0M216.2 112.3h0M281.9 197.5h0M271.1 152.2h0M156.7 205.3h0M278.6 197.6h0M243.6 223.7h0M273.4 241.4h0M198.4 144.9h0M160.7 199.7h0M208.8 162.5h0M224.8 238.5h0M269.0 237.7h0M234.5 222.9h0M292.8 212.1h0M264.8 215.2h0M268.6 202.4h0M185.6 159.2h0M170.4 162.6h0M278.0 198.5h0M276.8 190.6h0M192.2 218.7h0M200.5 207.9h0M240.9 244.9h0M183.3 124.5h0M193.5 125.9h0M159.9 170.4h0M230.7 125.8h0M184.6 168.7h0M276.6 144.1h0M148.5 148.0h0M151.7 136.5h0M170.1 216.8h0M192.4 200.3h0M261.9 144.3h0M217.5 240.6h0M216.2 235.7h0M204.7 247.9h0M280.2 166.2h0M276.8 167.2h0M195.3 102.1h0M250.8 128.9h0M159.0 220.5h0M268.8 129.9h0M195.5 214.0h0M190.0 196.9h0M271.8 136.4h0M170.3 232.1h0M162.0 168.3h0M264.4 243.4h0M297.5 167.0h0M189.8 236.8h0M155.6 171.2h0M266.4 223.9h0M162.1 172.9h0M278.2 173.4h0M207.7 204.4h0M204.1 158.2h0M246.1 161.2h0M189.6 161.1h0M275.6 116.0h0M187.9 246.5h0M163.4 214.2h0M239.1 188.0h0M273.4 135.7h0M226.7 118.5h0M209.0 131.3h0M182.2 189.0h0M197.3 218.2h0M131.8 216.9h0M298.4 156.0h0M209.4 219.3h0M208.4 180.2h0M224.5 162.5h0M262.4 135.8h0M182.8 207.1h0M164.5 166.8h0M167.8 141.2h0M180.0 162.8h0M214.2 196.2h0M164.9 155.8h0M273.1 188.7h0M261.8 157.1h0M166.8 107.0h0M189.3 138.4h0M218.2 193.8h0M146.3 209.8h0M223.2 197.4h0M161.7 219.4h0M156.1 191.3h0M278.5 140.9h0M195.4 227.7h0M192.5 247.5h0M224.9 113.6h0M154.2 208.7h0M148.7 174.6h0M142.6 159.8h0M261.7 198.0h0M149.4 181.1h0M179.3 192.8h0M258.6 150.1h0M287.5 216.9h0M225.8 235.6h0M234.4 137.3h0M292.6 236.1h0M147.1 154.6h0M245.9 145.6h0M234.2 129.3h0M167.8 116.0h0M210.5 178.1h0M210.0 228.9h0M252.2 195.0h0M236.1 208.5h0M201.2 237.9h0M290.7 222.9h0M143.3 150.3h0M249.6 134.0h0M182.3 176.5h0M247.9 215.4h0M179.5 136.1h0M175.8 179.7h0M194.0 134.3h0M279.2 151.8h0M181.5 192.1h0M230.5 137.3h0M193.2 188.4h0M230.4 186.7h0M219.8 130.3h0M223.9 181.6h0M264.2 194.8h0M159.4 172.3h0M185.6 240.1h0M157.8 132.0h0M201.6 177.2h0M218.2 113.0h0M224.9 115.8h0M175.9 152.1h0M289.3 168.6h0M214.5 173.1h0M215.4 202.8h0M229.8 109.1h0M208.6 211.9h0M196.0 160.8h0M255.8 152.2h0M221.8 161.5h0M146.1 199.9h0M139.3 191.9h0M146.3 199.6h0M209.4 176.7h0M156.8 132.4h0M201.4 115.6h0M241.7 139.3h0M190.4 128.1h0M215.6 225.6h0M234.9 132.1h0M158.0 176.8h0M225.6 124.9h0M158.8 191.5h0M183.7 180.4h0M261.1 222.8h0M169.3 218.1h0M202.6 240.1h0M228.6 158.0h0M246.7 218.4h0M264.2 254.4h0M195.3 118.5h0M224.2 208.4h0M155.4 131.9h0M137.1 148.3h0M265.8 161.3h0M228.3 138.3h0M168.4 218.0h0M162.4 174.5h0M173.8 119.2h0M260.8 139.9h0M245.4 200.1h0M223.9 118.2h0M240.6 176.0h0M169.9 198.1h0M286.5 167.0h0M138.7 208.1h0M278.2 167.6h0M159.7 160.2h0M230.9 141.3h0M170.9 178.8h0M214.9 165.9h0M214.1 126.8h0M155.7 130.5h0M282.3 159.7h0M253.1 214.7h0M237.2 161.9h0M269.7 218.5h0M135.0 138.0h0M164.0 129.0h0M239.2 125.6h0M238.9 184.9h0M166.9 116.7h0M225.6 168.0h0M165.4 192.1h0M294.9 156.3h0M198.3 189.7h0M233.8 243.3h0M239.9 110.7h0M272.2 125.3h0M240.2 237.1h0M208.0 121.5h0M213.2 240.4h0M237.1 130.5h0M264.7 164.3h0M205.2 219.1h0M197.0 117.2h0M157.5 122.0h0M164.9 213.8h0M247.1 231.2h0M148.7 200.1h0M258.7 242.0h0M154.3 164.4h0M205.8 121.0h0M191.2 228.0h0M189.8 153.8h0M245.8 120.3h0M230.5 139.8h0M157.0 184.5h0M172.9 134.2h0M240.7 127.5h0M248.4 211.3h0M244.7 209.3h0M182.6 121.4h0M192.5 91.7h0M234.6 224.7h0M191.0 247.5h0M192.6 164.6h0M225.2 168.5h0M279.0 234.3h0M262.9 172.3h0M230.0 159.4h0M190.4 249.4h0M206.8 111.5h0M269.0 176.2h0M209.1 124.5h0M275.7 157.3h0M261.7 161.7h0M276.1 243.7h0M185.5 134.1h0M206.8 201.3h0M182.6 148.0h0M266.6 189.7h0M237.2 244.7h0M183.0 205.0h0M173.3 150.2h0M144.1 165.4h0M204.4 154.6h0M205.7 168.2h0M140.6 195.3h0M222.1 225.9h0M266.7 228.3h0M141.8 172.1h0M192.3 110.7h0M294.6 199.1h0M191.1 151.9h0M160.9 234.9h0M200.2 137.8h0M249.1 209.0h0M147.6 130.9h0M211.7 115.4h0M227.6 182.2h0M189.6 141.1h0M263.2 119.7h0M271.7 129.2h0M158.7 141.3h0M236.2 158.2h0M162.2 215.0h0M190.3 213.7h0M214.9 141.3h0M286.7 136.5h0M244.3 228.1h0M162.5 158.8h0M271.2 189.7h0M145.4 159.6h0M166.2 102.8h0M240.9 204.3h0M258.0 229.3h0M179.4 225.2h0M172.0 207.0h0M233.9 160.0h0M274.6 140.1h0M285.6 220.1h0M187.0 171.3h0M249.9 225.4h0M211.7 175.5h0M245.5 206.5h0M266.7 217.3h0M156.0 195.2h0M248.4 152.9h0M281.8 149.4h0M163.8 112.5h0M226.9 200.9h0M150.7 157.9h0M280.4 229.2h0M208.5 156.9h0M225.1 202.0h0M247.6 222.3h0M139.8 189.9h0M148.9 177.1h0M200.5 152.8h0M136.1 153.1h0M221.4 162.5h0M256.0 196.0h0M195.7 200.6h0M188.5 170.6h0M192.2 234.2h0M288.3 194.8h0M221.1 132.5h0M162.4 213.1h0M282.8 147.4h0M223.5 235.2h0M154.1 167.1h0M305.6 130.4h0M243.6 112.0h0M212.8 250.6h0M228.7 243.9h0M173.1 146.4h0M291.3 212.0h0M176.8 214.2h0M198.5 187.6h0M210.3 236.6h0M226.6 127.5h0M160.6 145.8h0M173.0 128.2h0M191.8 241.4h0M136.6 195.7h0M211.9 116.2h0M163.2 207.3h0M208.8 238.1h0M231.9 171.7h0M161.5 159.8h0M184.9 174.9h0M172.4 172.6h0M286.1 154.7h0M280.9 226.6h0M263.1 163.5h0M228.7 139.9h0M226.2 104.2h0M253.1 180.7h0M242.8 224.9h0M198.8 232.4h0M244.4 212.5h0M272.0 158.8h0M281.6 158.1h0M237.9 209.7h0M232.6 206.8h0M259.9 175.2h0M249.5 129.7h0M232.6 205.9h0M301.6 195.9h0M201.2 173.8h0M269.4 218.7h0M289.7 140.2h0M236.4 252.1h0M261.2 122.0h0M246.4 227.7h0M273.1 162.5h0M206.8 187.9h0M224.4 167.7h0M268.4 162.2h0M252.6 120.8h0M245.9 247.2h0M248.9 124.6h0M281.1 202.8h0M208.4 148.0h0M172.3 196.5h0M280.8 142.5h0M261.2 146.6h0M212.1 178.7h0M169.2 135.9h0M258.9 155.3h0M214.7 244.2h0M216.2 149.6h0M273.8 164.5h0M175.7 161.9h0M227.4 106.4h0M190.9 105.8h0M214.4 178.5h0M242.8 166.0h0M191.2 222.3h0M168.6 182.5h0M229.6 255.6h0M149.2 194.2h0M161.5 210.6h0M150.9 160.0h0M262.8 169.2h0M224.0 189.7h0M173.1 235.5h0M220.4 116.7h0M169.6 129.1h0M189.6 197.2h0M238.7 149.4h0M254.5 218.9h0M188.9 138.9h0M218.2 168.0h0M183.8 209.5h0M286.4 231.9h0M295.3 131.1h0M243.3 137.8h0M290.4 154.9h0M142.6 190.1h0M273.9 162.9h0M163.9 241.4h0M291.4 152.5h0M156.6 174.6h0M159.8 142.7h0M171.1 173.4h0M234.0 131.4h0M265.3 254.4h0M239.8 170.5h0M238.4 225.7h0M207.6 217.7h0M204.1 124.5h0M136.0 194.2h0M190.3 206.7h0M260.5 149.3h0M186.7 124.9h0M280.9 141.1h0M175.5 160.0h0M278.2 108.5h0M182.5 129.7h0M258.4 190.8h0M187.2 111.2h0M232.6 226.3h0M270.3 246.3h0M189.3 225.4h0M181.0 240.1h0M266.5 213.5h0M276.4 241.7h0M238.5 189.7h0M212.4 251.8h0M181.4 136.5h0M190.2 207.1h0M274.7 182.1h0M178.8 120.1h0M170.2 171.0h0M240.9 236.1h0M265.9 180.1h0M177.4 102.3h0M279.7 122.3h0M194.3 120.8h0M258.1 118.9h0M221.5 228.2h0M262.3 201.4h0M175.2 141.3h0M284.2 223.8h0M269.6 161.8h0M199.6 176.8h0M205.1 101.6h0M210.6 235.9h0M204.4 205.7h0M190.6 209.4h0M291.0 186.0h0M242.4 161.3h0M230.3 99.6h0M231.7 238.2h0M195.4 223.0h0M134.0 183.4h0M256.3 233.5h0M139.4 204.3h0M173.7 198.5h0M289.7 149.9h0M256.6 241.7h0M163.2 120.3h0M288.4 169.1h0M219.3 118.8h0M212.2 190.2h0M209.0 222.7h0M190.8 150.4h0M159.4 193.5h0M267.1 156.0h0M179.1 149.6h0M170.1 229.6h0M191.9 236.6h0M244.1 111.4h0M211.0 171.5h0M277.9 175.6h0M241.2 103.3h0M245.8 210.3h0M200.8 236.5h0M180.3 212.1h0M242.4 184.9h0M261.8 143.1h0M184.8 207.5h0M204.9 169.5h0M291.3 158.9h0M142.4 149.8h0M241.8 227.1h0M294.9 187.5h0M208.6 187.7h0M262.3 208.8h0M194.1 188.5h0M142.3 205.1h0M199.5 213.1h0M167.9 126.4h0M208.5 235.2h0M275.9 166.1h0M271.9 192.5h0M285.3 241.2h0M246.7 234.1h0M192.2 119.6h0M173.9 113.7h0M276.8 154.8h0M218.7 207.1h0M219.4 107.1h0M237.0 189.4h0M247.1 121.7h0M285.2 192.2h0M240.0 157.1h0M237.3 170.7h0M198.1 227.7h0M161.5 168.2h0M273.4 153.4h0M239.7 112.9h0M251.0 242.9h0M194.6 157.2h0M229.8 123.6h0M140.0 171.3h0M230.9 212.7h0M198.0 114.1h0M217.9 124.2h0M264.5 157.4h0M270.9 142.2h0M256.9 229.7h0M228.3 186.9h0M205.6 219.7h0M212.4 176.7h0M240.5 205.2h0M174.5 102.9h0M275.9 208.3h0M154.6 160.8h0M233.1 143.9h0M234.2 207.9h0M158.7 122.0h0M261.6 120.7h0M243.7 207.8h0M244.6 121.4h0M189.6 223.5h0M243.1 193.0h0M235.4 116.7h0M232.4 234.6h0M229.6 191.2h0M218.0 138.6h0M226.0 219.1h0M270.0 158.4h0M180.5 171.7h0M224.9 126.9h0M175.9 119.5h0M159.9 190.1h0M216.9 131.2h0M184.5 192.8h0M143.1 171.6h0M226.7 127.6h0M264.0 130.6h0M197.8 152.7h0M142.4 140.4h0M158.4 212.8h0M184.0 157.6h0M225.3 162.3h0M290.7 164.9h0M222.7 170.0h0M181.2 153.2h0M145.6 148.1h0M169.6 195.8h0M186.7 239.9h0M187.9 223.0h0M295.0 235.8h0M232.0 110.3h0M184.1 255.3h0M240.3 114.6h0M229.1 206.9h0M255.6 254.4h0M160.0 154.5h0M268.4 230.5h0M163.1 207.7h0M167.0 165.6h0M283.5 188.1h0M195.6 151.5h0M244.2 114.6h0M207.8 141.9h0M198.5 162.1h0M250.9 160.0h0M210.2 145.0h0M213.1 177.1h0M269.0 147.3h0M251.6 219.4h0M284.3 198.7h0M198.9 200.0h0M235.4 222.2h0M238.4 222.5h0M261.1 177.3h0M193.5 218.0h0M238.0 172.2h0M187.7 199.0h0M145.0 172.8h0M262.5 185.4h0M200.8 146.7h0M240.7 125.4h0M260.4 230.5h0M133.9 167.8h0M203.7 124.6h0M267.1 158.7h0M233.1 190.6h0M151.6 181.6h0M204.7 149.0h0M216.2 119.4h0M275.8 158.6h0M197.3 141.8h0M147.9 128.4h0M183.2 165.9h0M146.3 205.4h0M169.5 209.8h0M291.6 142.3h0M172.5 187.5h0M266.3 239.1h0M254.4 212.8h0M243.2 208.4h0M227.3 186.0h0M260.2 163.1h0M160.2 116.8h0M154.8 220.3h0M275.7 133.1h0M180.8 129.1h0M211.3 105.4h0M265.8 227.4h0M146.0 93.9h0M172.0 108.9h0M154.6 156.8h0M143.3 151.3h0M226.3 107.2h0M236.5 238.2h0M201.0 144.9h0M222.3 228.6h0M165.0 205.2h0M221.2 200.4h0M218.8 228.1h0M265.5 199.7h0M203.7 165.9h0M279.2 155.9h0M261.3 211.2h0M238.0 216.5h0M216.9 117.8h0M194.2 182.0h0M212.0 197.8h0M177.0 219.7h0M170.2 177.1h0M160.1 222.4h0M255.6 175.6h0M166.2 232.6h0M225.6 243.0h0M251.4 175.0h0M230.4 219.5h0M163.1 156.1h0M156.4 226.2h0M247.1 213.8h0M298.8 195.5h0M179.4 163.0h0M201.5 167.1h0M156.6 186.0h0M281.6 125.0h0M210.1 211.2h0M229.8 132.4h0M255.2 159.7h0M168.6 108.4h0M245.7 239.1h0M282.6 185.0h0M168.7 148.2h0M167.7 234.3h0M171.0 180.4h0M247.5 147.8h0M199.3 192.5h0M139.7 241.1h0M280.5 224.2h0M247.9 156.1h0M174.1 129.3h0M207.9 215.9h0M239.6 237.7h0M144.4 115.4h0M241.1 177.5h0M258.8 153.6h0M264.9 194.9h0M162.7 126.3h0M176.6 130.2h0M155.3 154.7h0M203.6 249.4h0M280.1 223.7h0M283.5 204.0h0M199.3 194.4h0M279.3 157.1h0M183.0 226.2h0M149.9 214.3h0M229.6 180.3h0M205.3 148.0h0M229.1 195.1h0M193.8 172.4h0M234.6 117.6h0M197.7 117.9h0M254.3 240.6h0M231.2 127.0h0M283.8 158.0h0M177.9 221.4h0M250.1 129.1h0M187.3 136.7h0M169.0 193.0h0M256.8 182.4h0M227.9 236.4h0M221.7 205.9h0M168.9 180.8h0M204.5 148.3h0M236.6 151.0h0M257.5 119.5h0M216.3 160.5h0M133.1 188.8h0M151.6 218.8h0M150.7 218.0h0M215.2 262.8h0M189.7 239.1h0M203.8 175.9h0M239.2 199.9h0M174.9 164.7h0M182.5 120.6h0M168.0 196.1h0M148.0 118.7h0M269.4 156.6h0M200.3 173.0h0M148.2 163.7h0M239.8 173.9h0M216.3 191.2h0M276.9 202.2h0M229.6 173.2h0M180.9 144.8h0M213.4 107.5h0M227.6 172.0h0M202.9 219.2h0M262.4 149.2h0M256.9 115.2h0M186.7 244.6h0M223.8 217.5h0M206.1 152.2h0M196.2 111.2h0M205.0 163.9h0M183.1 180.2h0M164.6 197.1h0M231.1 257.8h0M241.2 180.5h0M247.7 131.8h0M163.8 114.5h0M228.5 97.6h0M289.8 178.0h0M218.8 196.5h0M278.7 145.4h0M264.1 197.4h0M286.2 245.0h0M185.1 240.8h0M166.6 119.4h0M283.9 187.2h0M208.2 239.3h0M171.1 199.7h0M256.5 193.3h0M220.5 217.8h0M199.4 258.7h0M223.6 203.9h0M265.7 189.0h0M191.4 144.1h0M211.6 221.1h0M210.1 137.5h0M263.6 149.3h0M290.5 183.5h0M180.5 111.4h0M195.6 244.1h0M186.1 159.2h0M192.4 177.8h0M265.8 208.5h0M271.2 241.8h0M177.6 242.6h0M142.4 213.3h0M286.8 231.4h0M216.6 142.3h0M159.0 221.6h0M240.2 126.7h0M157.4 190.5h0M251.7 117.3h0M167.9 142.5h0M248.5 197.8h0M156.6 169.7h0M246.2 182.3h0M164.9 189.1h0M210.5 109.3h0M270.0 210.1h0M131.0 148.9h0M209.1 210.9h0M235.5 129.2h0M249.4 177.3h0M243.7 155.7h0M154.2 184.0h0M191.5 204.3h0M141.0 165.3h0M211.8 245.5h0M274.5 204.8h0M211.7 177.5h0M231.9 235.1h0M179.0 202.5h0M216.4 234.6h0M168.3 154.8h0M186.8 165.6h0M166.9 194.8h0M169.9 182.4h0M226.1 240.4h0M218.4 204.9h0M148.4 189.6h0M203.9 110.4h0M176.8 147.7h0M153.1 150.6h0M274.4 215.4h0M208.3 228.5h0M152.2 135.1h0M268.6 223.3h0M144.2 151.8h0M175.3 201.8h0M176.2 164.8h0M163.3 204.9h0M133.0 174.1h0M265.7 219.6h0M150.9 151.9h0M259.9 112.6h0M198.4 229.2h0M178.6 143.7h0M193.1 104.5h0M175.3 155.7h0M238.6 136.1h0M160.6 186.4h0M218.4 167.3h0M272.0 186.5h0M167.3 219.2h0M143.1 131.4h0M201.8 200.2h0M224.7 192.9h0M262.0 138.2h0M168.2 156.5h0M238.5 247.1h0M158.2 121.2h0M114.3 93.5h0M160.8 97.8h0M158.4 101.8h0M154.2 102.6h0M149.6 104.6h0M162.9 111.0h0M145.0 113.4h0M139.5 114.4h0M146.4 121.0h0M153.0 120.0h0M158.0 118.0h0M118.4 124.8h0M124.5 122.0h0M130.2 123.8h0M134.4 124.2h0M146.0 125.0h0M188.4 74.8h0M210.1 72.6h0M249.0 87.0h0M256.1 90.2h0M190.0 93.2h0M213.8 94.3h0M240.5 96.4h0M238.0 101.0h0M250.7 99.6h0M260.1 106.2h0M267.4 105.0h0M272.0 107.6h0M275.0 110.0h0M272.0 113.6h0M285.0 109.4h0M279.0 124.0h0M274.0 129.0h0M289.0 130.0h0M295.0 131.0h0M291.0 142.4h0M299.0 142.4h0M297.6 153.0h0M305.6 159.0h0M116.8 137.9h0M110.3 140.2h0M103.8 142.8h0M125.0 136.0h0M136.0 142.0h0M134.0 147.0h0M139.0 148.6h0M114.6 156.6h0M124.0 161.4h0M128.0 160.0h0M116.6 175.0h0M108.0 184.4h0M113.6 193.3h0M122.4 193.5h0M129.0 174.4h0M128.4 180.0h0M131.0 188.0h0M131.0 172.0h0M131.6 202.2h0M132.4 213.6h0M139.0 207.4h0M136.0 223.6h0M136.0 236.0h0M288.0 132.0h0M302.0 143.0h0M302.4 176.0h0M299.0 183.4h0M301.0 186.0h0M330.8 185.2h0M317.0 190.0h0M312.4 192.0h0M307.6 196.0h0M302.0 201.0h0M316.0 203.0h0M299.0 210.0h0M302.4 215.6h0M317.0 221.6h0M333.6 226.0h0M305.0 224.4h0M308.0 228.0h0M311.6 230.4h0M299.0 247.0h0M302.0 249.6h0M149.0 240.0h0M156.0 243.6h0M160.4 246.4h0M163.6 247.6h0M152.0 228.0h0M127.0 258.0h0M166.0 231.0h0M169.0 236.0h0M174.0 255.4h0M186.0 254.0h0M189.0 259.0h0M188.0 264.0h0M177.0 268.5h0M190.6 271.0h0M199.0 254.0h0M205.6 265.0h0M211.0 260.0h0M216.0 262.0h0M222.0 263.0h0M230.0 266.4h0M233.0 261.0h0M244.0 267.6h0M231.0 260.0h0M233.0 255.6h0M264.0 257.0h0M277.0 254.0h0M277.0 250.0h0M266.6 267.6h0M287.0 246.0h0M176.4 245.0h0" stroke="#a6a6a6" stroke-width="6.0" stroke-linecap="round" fill="none"/>
<path d="M207.4 157.9h0M237.4 209.2h0M191.0 192.2h0M197.6 187.2h0M213.0 202.5h0M212.4 171.7h0M224.4 216.0h0M221.7 147.1h0M199.4 183.9h0M188.2 185.2h0M205.3 200.5h0M198.8 195.1h0M205.7 158.9h0M181.3 161.8h0M187.8 155.3h0M177.0 182.6h0M179.8 183.9h0M204.9 157.6h0M204.9 179.8h0M211.8 157.8h0M219.3 145.7h0M195.6 169.6h0M236.5 161.4h0M251.0 194.3h0M217.6 194.4h0M237.3 207.6h0M222.8 199.1h0M179.9 164.3h0M222.5 176.5h0M225.6 215.6h0M249.7 186.7h0M201.5 202.2h0M234.1 190.6h0M200.2 182.3h0M241.8 200.5h0M246.1 181.8h0M201.7 184.4h0M183.6 183.1h0M240.8 184.5h0M225.0 176.8h0M190.0 155.4h0M202.6 158.6h0M227.5 195.9h0M199.1 195.3h0M183.7 167.3h0M205.1 157.9h0M221.2 157.9h0M251.9 185.8h0M248.6 204.4h0M219.4 167.9h0M256.9 200.4h0M241.1 192.7h0M245.2 208.4h0M201.4 156.4h0M236.8 154.4h0M231.0 203.4h0M227.2 149.7h0M232.4 206.8h0M213.3 199.5h0M214.2 211.2h0M216.4 199.5h0M191.4 171.5h0M224.0 142.9h0M234.9 207.7h0M230.5 201.7h0M239.1 211.6h0M187.8 185.0h0M231.4 154.5h0M191.3 167.4h0M183.4 165.3h0M187.5 167.0h0M208.2 196.1h0M192.0 164.6h0M249.3 179.6h0M234.8 162.2h0M218.5 193.7h0M220.3 207.2h0M205.1 199.5h0M241.2 197.8h0M195.1 176.8h0M190.3 190.3h0M219.6 201.4h0M219.1 146.7h0M229.6 214.1h0M246.9 192.9h0M201.9 174.5h0M204.0 180.5h0M249.2 186.0h0M205.6 153.3h0M198.8 181.1h0M252.2 186.9h0M231.1 213.5h0M211.6 188.6h0M229.6 153.8h0M220.3 207.1h0M225.2 195.4h0M189.6 177.6h0M212.0 176.0h0M179.5 169.2h0M184.5 168.8h0M179.6 185.8h0M231.3 200.0h0M241.6 203.5h0M246.0 183.8h0M215.2 191.8h0M199.2 149.4h0M224.1 160.5h0M194.8 177.4h0M216.3 167.8h0M180.7 175.2h0M209.2 198.4h0M256.9 202.1h0M184.5 155.8h0M248.3 190.6h0M220.8 157.3h0M181.9 175.6h0M235.7 214.1h0M245.3 177.2h0M244.7 198.0h0M214.8 164.0h0M225.3 165.1h0M199.0 179.2h0M220.8 163.6h0M220.8 193.1h0M203.5 199.0h0M230.0 146.9h0M187.5 176.5h0M245.0 208.8h0M188.3 191.3h0M204.7 159.6h0M235.7 172.3h0M213.3 146.4h0M197.6 174.4h0M246.0 185.3h0M245.7 185.9h0M220.6 170.0h0M214.9 156.0h0M232.3 178.0h0M236.7 169.2h0M235.5 170.7h0M256.3 198.3h0M258.3 198.5h0M245.9 192.3h0M225.4 176.9h0M199.5 163.2h0M240.5 175.7h0M198.2 178.4h0M183.8 156.1h0M196.5 191.4h0M219.4 152.5h0M251.2 204.7h0M247.7 203.7h0M194.3 177.5h0M226.9 178.8h0M226.0 200.3h0M215.9 206.3h0M234.5 212.0h0M238.6 203.8h0M181.3 184.4h0M209.3 173.7h0M227.1 188.0h0M223.0 194.0h0M200.1 146.7h0M209.4 160.7h0M203.0 157.7h0M189.5 176.7h0M213.6 174.6h0M228.7 184.0h0M227.6 150.5h0M227.1 170.9h0M219.3 166.5h0M243.3 199.3h0M223.4 158.0h0M260.6 196.4h0M187.5 184.3h0M216.1 201.1h0M205.8 180.8h0M203.8 183.6h0M230.5 164.5h0M203.1 166.2h0M199.2 148.2h0M219.1 146.4h0M180.6 173.4h0M209.4 164.4h0M179.5 164.1h0M212.7 167.0h0M219.4 180.1h0M185.0 160.1h0M182.3 181.8h0M197.9 191.0h0M236.6 201.6h0M218.2 209.4h0M242.2 169.7h0M236.0 155.6h0M217.7 143.8h0M204.4 166.8h0M234.4 171.3h0M236.5 177.9h0M217.8 172.0h0M254.8 191.5h0M246.9 202.5h0M220.0 187.1h0M193.1 158.6h0M201.7 155.8h0M200.2 190.5h0M257.8 193.7h0M197.3 183.2h0M184.0 188.8h0M258.0 195.9h0M195.0 152.4h0M239.5 198.2h0M184.8 151.4h0M221.3 147.9h0M229.1 177.4h0M226.9 190.9h0M185.7 186.2h0M199.1 182.2h0M203.2 184.1h0M216.9 158.3h0M225.1 170.4h0M221.9 214.1h0M245.8 187.7h0M191.7 183.4h0M219.1 164.8h0M220.9 151.4h0M213.2 160.4h0M193.4 165.6h0M188.7 185.1h0M232.1 210.8h0M214.1 177.9h0M231.7 174.1h0M219.6 213.0h0M205.9 202.0h0M234.9 172.6h0M226.3 182.3h0M195.7 183.8h0M178.0 186.3h0M242.5 188.8h0M230.6 183.4h0M243.6 200.0h0M221.8 199.8h0M183.8 152.6h0M234.2 167.7h0M233.9 182.5h0M258.0 193.8h0M229.2 197.5h0M213.0 190.9h0M207.1 167.0h0M183.6 154.9h0M212.6 163.8h0M210.9 167.1h0M195.6 157.3h0M199.8 163.2h0M227.5 179.0h0M237.0 181.4h0M226.7 157.9h0M226.7 173.2h0M213.2 161.0h0M222.4 186.9h0M199.7 158.0h0M196.0 187.7h0M198.2 165.1h0M222.8 174.7h0M212.9 189.7h0M215.2 185.1h0M245.4 187.6h0M236.3 192.8h0M220.0 163.5h0M204.9 166.5h0M233.0 179.3h0M197.2 185.5h0M205.0 178.7h0M193.9 184.2h0M230.0 161.9h0M227.7 200.2h0M234.5 180.3h0M209.1 177.7h0M196.6 169.6h0M195.3 176.4h0M218.7 193.9h0M247.8 190.4h0M224.0 177.9h0M247.5 191.7h0M203.0 186.5h0M239.6 193.8h0M205.1 161.1h0M239.9 195.2h0M216.8 188.1h0M231.3 177.6h0M214.8 192.1h0M243.7 190.3h0M218.7 161.9h0M212.4 170.2h0M203.4 161.8h0M198.1 176.0h0M211.4 182.8h0M214.2 197.1h0M211.3 155.3h0M225.6 159.9h0M202.9 174.0h0M233.7 186.0h0M195.9 163.9h0M237.2 179.7h0M195.5 177.8h0M228.4 192.9h0M217.8 157.6h0M226.0 192.9h0M247.9 192.5h0M222.5 198.9h0M211.4 165.5h0M219.1 197.5h0M219.3 171.9h0M232.5 187.6h0M231.5 203.1h0M213.4 183.3h0M221.1 194.8h0M196.7 157.6h0M229.9 174.1h0M220.8 192.5h0M224.7 163.0h0M221.9 161.3h0M196.7 182.8h0M193.7 170.4h0M239.8 192.6h0M215.6 185.3h0M219.4 156.8h0M219.4 171.2h0M227.5 167.5h0M216.1 172.4h0M228.9 170.3h0M220.5 184.5h0M216.1 167.7h0M210.0 193.2h0M224.2 205.8h0M218.5 160.8h0M238.8 192.5h0M222.1 186.1h0M220.5 163.1h0M206.6 181.2h0M230.2 198.1h0M151.2 111.6h0M137.5 130.1h0M125.4 133.3h0M120.3 146.6h0M123.5 150.0h0M128.0 151.4h0M134.6 153.4h0M195.0 67.6h0M219.8 95.4h0M233.3 95.0h0M194.5 102.1h0M252.4 112.0h0M176.6 113.6h0M183.5 117.1h0M204.6 123.4h0M196.4 125.5h0M231.5 126.5h0M234.3 131.9h0M223.3 131.9h0M206.3 133.5h0M173.5 131.9h0M179.4 134.2h0M182.9 135.4h0M240.2 134.7h0M221.5 136.6h0M225.0 140.1h0M213.3 142.4h0M285.6 145.0h0M282.4 157.6h0M293.0 162.4h0M296.0 165.0h0M156.0 152.0h0M160.0 151.0h0M161.0 153.4h0M156.0 161.0h0M159.0 163.0h0M158.0 159.0h0M168.0 167.0h0M158.0 184.6h0M164.4 186.6h0M102.5 217.0h0M271.0 138.6h0M271.0 145.0h0M278.4 141.0h0M251.0 152.0h0M256.0 156.6h0M252.0 157.0h0M254.0 163.0h0M266.0 161.0h0M271.0 153.4h0M257.0 172.0h0M258.0 169.0h0M267.6 170.0h0M269.0 180.6h0M270.0 186.0h0M251.0 182.0h0M252.0 184.0h0M262.0 189.0h0M260.0 192.0h0M266.0 193.0h0M271.0 194.0h0M285.0 192.0h0M292.4 191.4h0M291.0 204.0h0M319.0 210.0h0M291.4 242.6h0M149.0 218.0h0M150.0 222.0h0M167.0 222.4h0M160.0 234.0h0M183.6 240.0h0M204.0 232.0h0M206.0 234.4h0M190.0 215.0h0M200.0 213.0h0M208.0 214.0h0M215.0 215.0h0M218.0 213.0h0M214.0 218.0h0M210.0 219.0h0M213.4 225.0h0M222.6 244.0h0M227.0 219.0h0M233.0 220.0h0M230.0 231.0h0M238.0 223.0h0M245.0 226.4h0M242.0 237.0h0M246.0 255.0h0M237.4 266.4h0M223.0 213.0h0M254.0 215.0h0M259.0 217.0h0M257.0 222.4h0M255.6 225.0h0M268.4 221.0h0M252.0 233.0h0M259.6 237.0h0M281.0 244.0h0M289.6 252.0h0M293.0 258.4h0M255.0 259.0h0M318.0 212.0h0M177.7 135.5h0M183.6 139.2h0M182.2 143.6h0M175.5 145.1h0M184.4 151.3h0M176.0 159.9h0M171.1 167.3h0M165.9 167.3h0M194.0 143.6h0M199.9 143.6h0M196.9 148.0h0M216.9 147.3h0M207.3 149.6h0M210.2 148.1h0M204.3 152.5h0M243.6 164.6h0M241.6 169.6h0M241.0 173.5h0M237.7 175.5h0M254.4 171.5h0M238.6 147.4h0M218.4 149.9h0M226.8 149.9h0M236.7 158.7h0M235.7 168.6h0M182.0 201.6h0M190.8 203.6h0M185.4 194.7h0M192.8 195.7h0M195.8 196.2h0M189.4 188.3h0M183.0 189.0h0M243.6 201.6h0" stroke="#0072bd" stroke-width="6.0" stroke-linecap="round" fill="none"/>
<path d="M96.0 95.3h0M138.7 98.8h0M168.5 102.8h0M165.9 118.9h0M164.6 124.2h0M108.1 132.2h0M166.1 135.2h0M171.0 110.3h0M110.5 145.6h0M147.1 143.8h0M132.5 158.4h0M194.5 60.1h0M229.0 76.1h0M190.6 84.6h0M255.6 92.6h0M227.3 93.4h0M232.0 96.1h0M185.9 99.8h0M219.6 106.3h0M249.5 105.0h0M256.1 111.3h0M178.9 109.1h0M220.3 114.3h0M222.8 114.3h0M207.0 116.0h0M201.6 120.6h0M244.5 121.5h0M242.6 122.5h0M194.1 127.4h0M240.8 127.1h0M253.8 128.4h0M201.6 133.5h0M191.1 137.3h0M198.1 138.4h0M250.7 135.4h0M232.7 137.0h0M233.2 141.2h0M204.6 143.1h0M289.6 123.6h0M282.4 139.6h0M297.0 140.0h0M339.0 141.6h0M299.6 160.4h0M307.6 166.4h0M135.6 180.0h0M149.6 161.0h0M163.0 192.0h0M164.0 201.0h0M167.0 201.4h0M190.0 144.0h0M192.0 145.0h0M183.4 156.6h0M190.0 152.0h0M178.0 164.0h0M181.0 166.0h0M179.0 170.0h0M177.0 172.0h0M187.0 169.4h0M199.0 167.4h0M173.0 179.0h0M189.0 179.0h0M191.0 178.6h0M172.0 186.0h0M170.0 188.0h0M210.0 173.4h0M215.4 168.6h0M222.0 164.0h0M226.0 159.0h0M229.0 162.0h0M225.0 166.0h0M232.6 161.0h0M235.0 153.0h0M224.6 172.0h0M223.0 132.0h0M210.0 188.0h0M211.0 190.0h0M219.0 189.6h0M213.0 196.0h0M215.4 195.4h0M203.0 198.0h0M204.0 200.0h0M197.0 205.4h0M200.0 207.0h0M204.0 209.0h0M246.0 181.0h0M239.4 197.0h0M169.0 202.0h0M271.0 158.0h0M272.4 169.0h0M261.6 170.0h0M265.0 173.0h0M259.6 179.0h0M269.0 177.4h0M295.0 177.4h0M256.0 186.6h0M255.0 191.0h0M254.0 194.0h0M257.0 196.0h0M267.0 199.0h0M285.0 198.0h0M285.6 200.0h0M296.4 194.6h0M323.6 211.4h0M95.0 219.4h0M131.6 222.4h0M138.0 218.6h0M147.0 246.0h0M151.6 221.0h0M155.0 221.0h0M157.6 215.4h0M202.0 216.0h0M204.0 219.0h0M201.0 222.0h0M194.0 230.4h0M189.0 237.0h0M192.6 238.4h0M178.6 249.0h0M196.4 260.4h0M222.0 238.4h0M229.0 243.0h0M230.0 215.6h0M235.0 229.6h0M239.0 231.0h0M240.6 223.0h0M244.0 215.0h0M246.0 214.0h0M248.6 259.6h0M242.6 289.4h0M240.0 298.0h0M267.6 224.4h0M267.0 232.4h0M269.6 235.0h0M257.6 246.0h0M261.6 249.0h0M282.0 245.0h0M294.4 255.6h0M295.6 261.0h0M258.4 263.0h0M251.0 260.0h0M253.0 268.0h0M323.0 213.6h0M195.5 128.9h0M244.6 179.4h0M245.0 211.5h0" stroke="#d95319" stroke-width="6.0" stroke-linecap="round" fill="none"/>
<path d="M498.0 142.3L507.9 139.3L519.3 135.3L530.3 126.9L543.3 125.0L553.5 133.6L566.3 140.5L583.4 147.6L592.8 151.6L601.4 158.5L604.1 170.9L602.0 185.2L598.4 197.6L594.9 208.3L589.7 219.0L582.6 227.1L562.6 228.8L550.2 228.2L535.6 226.0L520.7 228.5L511.1 225.1L502.4 218.1L495.6 208.5L490.3 199.8L486.9 188.5L486.0 178.1L487.8 168.6L490.4 159.0L492.9 152.0L495.4 145.8Z" fill="#a6a6a6"/>
<path d="M532.5 165.8h0M519.7 212.5h0M511.2 178.6h0M596.5 176.7h0M542.3 153.3h0M544.1 128.7h0M489.2 169.6h0M487.1 191.2h0M499.3 210.4h0M568.3 196.5h0M525.6 125.9h0M534.7 170.4h0M600.7 229.0h0M514.4 135.0h0M575.0 185.8h0M485.5 190.1h0M525.2 233.4h0M599.2 182.9h0M517.1 236.0h0M574.5 203.4h0M540.3 122.9h0M528.6 134.1h0M608.4 178.9h0M559.5 198.7h0M601.7 182.5h0M597.7 168.7h0M587.6 189.4h0M549.8 189.8h0M528.9 177.5h0M490.3 184.0h0M585.6 150.2h0M544.0 211.6h0M509.2 214.8h0M563.2 187.6h0M495.0 141.3h0M544.4 146.7h0M508.1 202.9h0M580.3 155.9h0M506.6 207.0h0M585.1 151.3h0M542.0 218.3h0M506.9 184.1h0M494.0 187.3h0M494.8 196.7h0M523.0 234.6h0M548.4 228.9h0M501.7 197.6h0M531.8 119.2h0M515.4 208.7h0M555.1 140.9h0M591.7 232.8h0M527.3 130.8h0M487.5 181.6h0M541.8 196.9h0M582.8 161.0h0M581.9 217.8h0M509.2 170.9h0M519.4 203.5h0M588.0 158.0h0M502.9 200.0h0M510.6 223.0h0M474.3 167.6h0M488.9 181.9h0M548.4 239.6h0M606.7 154.5h0M557.6 190.9h0M588.3 153.1h0M568.9 155.3h0M589.1 181.4h0M595.8 182.2h0M598.6 190.6h0M528.6 133.1h0M589.5 154.5h0M580.7 194.4h0M535.5 226.9h0M515.0 183.5h0M509.2 180.0h0M498.6 169.1h0M533.5 147.3h0M499.5 144.1h0M518.0 163.3h0M582.1 188.5h0M490.1 156.8h0M561.2 225.8h0M488.1 173.2h0M528.6 156.1h0M593.2 173.2h0M582.4 150.6h0M521.2 221.2h0M599.6 186.1h0M586.9 159.9h0M550.6 143.3h0M502.3 196.2h0M578.6 192.5h0M551.1 140.7h0M540.6 230.4h0M577.1 232.8h0M558.1 164.5h0M506.3 223.8h0M530.7 229.8h0M540.3 224.6h0M563.7 207.6h0M575.2 218.6h0M520.3 206.1h0M505.2 210.1h0M546.6 207.3h0M571.6 219.6h0M497.1 168.0h0M557.9 175.3h0M554.0 183.3h0M595.5 221.7h0M525.9 195.8h0M550.7 205.1h0M512.3 154.0h0M528.3 205.6h0M557.0 224.0h0M584.6 147.1h0M501.1 210.1h0M525.3 170.7h0M542.8 133.1h0M556.8 153.8h0M544.6 206.4h0M551.5 171.7h0M511.1 206.6h0M498.5 185.5h0M574.1 202.6h0M515.5 157.7h0M548.7 200.4h0M578.1 157.8h0M537.8 206.3h0M579.2 195.4h0M529.7 126.7h0M519.2 216.1h0M531.0 197.7h0M572.6 142.5h0M599.3 195.4h0M545.7 127.6h0M519.3 197.6h0M523.9 146.6h0M512.6 136.0h0M509.5 145.5h0M598.0 188.3h0M563.7 178.6h0M495.1 148.0h0M520.5 160.0h0M485.8 160.4h0M580.4 142.9h0M556.2 133.1h0M551.1 138.0h0M598.0 185.3h0M593.9 231.2h0M548.3 194.1h0M533.6 123.3h0M588.2 179.0h0M546.8 231.8h0M507.7 192.8h0M560.6 166.1h0M576.4 147.5h0M555.0 157.2h0M506.6 219.6h0M587.6 155.1h0M523.3 171.6h0M582.9 203.5h0M612.3 167.8h0M476.0 185.4h0M563.2 141.8h0M516.6 231.3h0M521.9 185.5h0M497.8 198.6h0M566.3 224.3h0M560.2 139.9h0M577.0 215.9h0M488.6 187.6h0M581.5 229.6h0M521.9 223.6h0M578.9 241.4h0M496.4 146.6h0M515.2 234.6h0M562.0 144.8h0M534.9 142.5h0M496.2 213.7h0M546.9 159.9h0M510.7 172.1h0M577.1 191.0h0M540.4 172.2h0M537.8 130.9h0M501.7 188.0h0M515.0 224.2h0M532.4 129.1h0M607.5 140.2h0M559.7 224.0h0M579.7 216.8h0M512.1 168.7h0M547.1 217.1h0M587.5 194.2h0M554.9 115.9h0M595.6 199.9h0M539.0 154.8h0M518.0 217.0h0M577.4 145.4h0M490.2 178.6h0M535.8 193.7h0M586.1 224.0h0M499.7 169.8h0M532.3 165.6h0M526.1 215.1h0M550.9 186.3h0M503.2 135.1h0M496.2 130.9h0M576.1 171.1h0M555.1 224.6h0M525.6 197.2h0M509.9 206.6h0M553.2 145.4h0M577.5 183.7h0M487.3 182.0h0M595.5 177.8h0M547.0 155.2h0M499.0 218.6h0M604.3 171.5h0M496.6 204.8h0M564.7 161.9h0M579.1 164.0h0M529.5 187.6h0M554.1 166.1h0M490.3 146.4h0M511.3 230.2h0M539.9 163.0h0M577.6 228.0h0M519.7 201.1h0M516.9 156.1h0M560.4 142.3h0M599.0 171.4h0M526.9 147.4h0M502.8 191.2h0M562.5 228.8h0M582.7 180.3h0M593.0 174.7h0M524.7 122.3h0M525.4 195.8h0M584.7 159.9h0M566.2 182.5h0M520.4 140.7h0M562.4 134.4h0M572.0 223.7h0M592.1 170.4h0M513.0 164.8h0M554.7 141.6h0M502.8 208.3h0M500.9 203.3h0M535.1 204.9h0M536.7 124.9h0M573.6 213.7h0M577.6 204.8h0M512.3 229.4h0M526.1 194.4h0M553.7 151.8h0M543.1 176.7h0M557.9 207.0h0M558.0 140.5h0M495.9 179.4h0M516.1 117.1h0M481.6 167.5h0M556.0 217.6h0M494.0 156.2h0M606.8 170.5h0M501.8 132.3h0M595.6 177.9h0M525.3 137.6h0M554.1 138.4h0M608.6 196.4h0M558.9 122.5h0M579.8 185.3h0M549.0 138.0h0M524.0 208.8h0M579.3 221.4h0M554.9 221.4h0M509.1 201.8h0M576.9 194.9h0M504.4 145.7h0M598.0 158.1h0M519.1 231.0h0M550.5 186.6h0M531.9 211.2h0M490.0 157.1h0M516.1 158.4h0M569.3 202.4h0M517.5 230.6h0M541.0 244.1h0M514.9 227.0h0M542.6 193.3h0M520.6 210.9h0M594.2 163.3h0M594.1 206.9h0M560.2 180.4h0M551.4 160.1h0M547.4 213.8h0M562.7 226.7h0M532.8 201.9h0M518.4 123.4h0M588.6 196.3h0M506.0 173.5h0M544.1 127.1h0M524.7 184.7h0M559.5 137.6h0M541.3 166.4h0M525.0 176.2h0M517.6 212.5h0M517.4 145.7h0M532.7 131.7h0M510.9 153.3h0M493.6 143.0h0M500.7 187.7h0M588.9 218.5h0M533.4 187.6h0M606.3 171.0h0M564.6 203.3h0M548.6 132.1h0M573.7 176.3h0M541.8 216.5h0M534.2 209.5h0M602.4 166.4h0M514.1 156.4h0M531.8 162.0h0M586.4 176.2h0M544.1 228.0h0M564.2 154.7h0M478.5 184.5h0M611.3 167.1h0M553.9 130.1h0M559.9 196.4h0M578.3 167.7h0M596.9 165.1h0M550.0 180.6h0M586.6 184.2h0M579.7 144.6h0M520.1 176.6h0M577.1 231.5h0M517.0 145.6h0M559.3 173.2h0M503.1 187.5h0M554.9 175.8h0M531.9 183.3h0M576.1 207.2h0M593.8 220.9h0M533.9 194.1h0M494.6 176.3h0M495.8 217.4h0M506.8 140.7h0M598.6 192.3h0M542.5 219.8h0M566.8 228.3h0M514.5 191.2h0M488.2 169.6h0M502.6 155.9h0M581.7 195.9h0M593.0 214.3h0M498.7 220.5h0M578.2 231.7h0M483.5 160.0h0M526.1 145.8h0M533.0 143.3h0M613.1 210.1h0M533.0 243.0h0M581.1 169.7h0M516.8 188.5h0M545.4 131.6h0M601.9 198.9h0M550.5 227.6h0M587.6 191.7h0M553.4 225.4h0M531.8 217.8h0M524.1 137.5h0M502.8 221.7h0M541.0 136.2h0M542.8 130.1h0M515.3 230.1h0M586.5 164.0h0M493.9 153.8h0M587.1 188.1h0M567.7 128.6h0M566.5 177.4h0M539.3 194.6h0M562.1 161.0h0M519.3 179.3h0M572.8 227.1h0M551.5 194.2h0M592.1 150.0h0M542.6 154.5h0M503.2 132.8h0M530.8 126.6h0M574.9 215.9h0M549.3 168.0h0M528.6 163.4h0M540.9 116.4h0M549.6 159.2h0M567.4 215.1h0M597.2 179.7h0M506.7 153.5h0M556.8 160.9h0M498.8 213.3h0M512.8 206.3h0M514.0 169.9h0M580.1 184.7h0M571.0 169.4h0M546.7 147.6h0M567.8 201.3h0M533.6 209.3h0M565.9 165.6h0M513.5 153.5h0M562.3 166.2h0M508.5 168.6h0M548.0 235.0h0M527.1 177.1h0M512.9 221.1h0M560.9 181.9h0M510.9 189.2h0M515.1 150.7h0M566.2 187.5h0M488.5 209.4h0M491.2 171.7h0M488.7 178.4h0M541.2 233.1h0M527.3 218.4h0M600.1 235.8h0M495.6 194.9h0M555.3 199.3h0M556.2 219.6h0M586.0 200.7h0M505.5 188.9h0M523.7 215.8h0M560.6 160.8h0M520.3 173.9h0M559.0 181.3h0M545.0 180.8h0M560.3 137.6h0M581.3 231.6h0M547.9 225.0h0M608.8 180.5h0M541.8 159.7h0M597.4 180.3h0M529.3 136.2h0M489.7 193.4h0M535.6 190.1h0M534.3 230.4h0M487.8 166.9h0M493.9 179.5h0M568.5 203.3h0M528.2 187.2h0M551.5 202.0h0M525.7 207.5h0M579.5 228.0h0M531.7 202.0h0M568.9 207.9h0M546.5 148.3h0M542.3 215.8h0M559.5 143.9h0M556.1 179.6h0M494.2 157.0h0M570.9 181.9h0M543.1 118.8h0M546.5 139.9h0M600.6 178.0h0M553.4 220.8h0M597.2 179.7h0M552.3 163.1h0M612.8 165.4h0M598.8 205.6h0M495.0 195.6h0M551.7 185.4h0M557.6 173.7h0M553.4 182.2h0M532.2 187.8h0M526.9 180.5h0M562.7 228.2h0M590.3 220.8h0M568.2 204.2h0M571.8 142.3h0M551.0 234.0h0M558.7 185.2h0M570.9 202.7h0M531.9 233.1h0M590.3 156.5h0M579.4 163.8h0M513.5 174.3h0M492.9 166.2h0M556.9 154.9h0M569.4 201.2h0M587.8 170.9h0M528.7 176.3h0M519.2 143.7h0M510.9 195.8h0M563.6 166.3h0M549.9 185.7h0M583.8 150.6h0M585.3 170.0h0M583.9 215.0h0M617.9 222.6h0M488.1 171.4h0M525.8 228.4h0M511.5 166.8h0M551.5 230.3h0M549.2 214.0h0M522.5 178.7h0M529.6 200.3h0M526.6 184.9h0M533.6 183.6h0M555.3 161.7h0M575.3 218.4h0M523.2 192.7h0M519.1 143.8h0M587.5 198.6h0M580.0 151.9h0M491.8 212.2h0M588.6 174.2h0M557.3 142.8h0M568.3 161.6h0M611.3 173.0h0M518.4 137.0h0M494.5 187.0h0M532.1 184.3h0M482.5 183.1h0M477.2 208.0h0M545.8 195.6h0M500.0 190.7h0M585.1 164.7h0M494.9 157.0h0M534.0 134.4h0M503.9 199.4h0M531.7 127.6h0M598.8 147.7h0M560.7 147.1h0M502.1 152.6h0M551.9 144.7h0M506.6 172.9h0M582.0 200.6h0M596.4 204.6h0M493.1 172.2h0M532.2 217.9h0M506.8 151.5h0M507.4 210.5h0M480.7 156.5h0M530.8 150.8h0M606.9 156.8h0M492.6 173.2h0M518.4 202.3h0M537.1 224.0h0M578.0 193.1h0M533.6 139.8h0M518.7 138.1h0M548.0 221.8h0M505.2 193.9h0M564.6 204.1h0M521.2 225.3h0M546.1 131.3h0M525.1 203.3h0M501.3 174.8h0M494.4 174.1h0M556.3 205.3h0M496.5 222.3h0M551.9 190.0h0M586.7 205.7h0M509.5 227.2h0M508.4 174.8h0M519.4 177.6h0M594.3 200.2h0M506.5 172.1h0M517.7 159.8h0M600.9 199.4h0M544.1 176.1h0M510.2 213.0h0M590.5 153.8h0M592.0 191.0h0M516.6 191.6h0M563.7 151.0h0M534.2 139.5h0M522.1 139.4h0M535.7 166.3h0M500.8 215.3h0M558.9 140.5h0M490.1 153.9h0M569.7 165.7h0M594.6 133.1h0M566.3 189.1h0M599.7 180.3h0M482.6 179.4h0M488.8 167.8h0M505.6 162.1h0M588.2 167.0h0M557.2 165.9h0M598.0 169.1h0M571.7 236.9h0M502.8 153.1h0M528.5 201.2h0M577.5 181.4h0M561.8 168.5h0M587.6 187.9h0M530.5 181.1h0M611.0 155.4h0M535.8 123.3h0M514.6 237.0h0M538.7 137.9h0M605.5 213.1h0M526.2 111.5h0M602.3 167.6h0M587.9 207.6h0M578.5 149.6h0M598.0 140.1h0M541.9 206.0h0M492.6 141.3h0M499.0 138.7h0M579.2 180.5h0M560.8 148.6h0M556.1 193.0h0M529.5 199.0h0M566.7 217.2h0M527.6 131.2h0M582.1 153.7h0M564.0 230.1h0M575.4 207.7h0M560.9 191.4h0M591.6 199.9h0M527.9 206.2h0M500.2 219.1h0M545.6 147.2h0M550.2 214.8h0M523.2 219.4h0M527.6 196.0h0M502.0 142.2h0M608.3 169.0h0M595.9 165.3h0M539.1 178.6h0M593.1 218.6h0M521.6 228.3h0M535.7 150.7h0M531.4 143.8h0M585.6 237.3h0M527.4 193.3h0M562.2 169.8h0M601.9 156.0h0M525.9 190.7h0M510.6 156.2h0M502.6 150.3h0M566.9 226.4h0M573.2 171.4h0M597.0 172.2h0M547.1 140.1h0M597.4 169.6h0M552.7 203.5h0M534.1 118.9h0M560.3 147.6h0M597.7 186.0h0M583.1 143.3h0M515.8 203.6h0M563.8 175.5h0M496.8 213.3h0M507.0 189.2h0M523.6 146.6h0M538.5 186.2h0M493.4 195.6h0M499.2 212.2h0M496.6 210.5h0M584.6 209.2h0M597.3 190.8h0M556.5 149.1h0M544.7 216.4h0M543.0 143.1h0M567.3 156.6h0M531.4 237.3h0M609.0 160.9h0M555.4 199.9h0M563.9 155.0h0M562.7 210.9h0M538.2 189.5h0M568.8 198.7h0M525.3 204.0h0M528.5 130.4h0M518.7 133.3h0M525.6 131.0h0M538.0 146.5h0M533.1 140.3h0M527.0 159.3h0M565.4 216.3h0M515.4 172.5h0M563.7 211.7h0M504.5 141.8h0M547.5 161.7h0M549.5 131.1h0M570.4 234.5h0M501.8 153.5h0M572.0 156.2h0M507.0 142.7h0M581.8 147.2h0M495.8 141.0h0M580.7 218.3h0M586.2 140.1h0M606.1 156.1h0M541.0 162.8h0M601.5 180.8h0M544.1 195.6h0M556.6 227.9h0M527.6 127.0h0M523.2 217.4h0M595.4 179.7h0M521.9 123.5h0M546.3 190.3h0M609.8 210.6h0M575.3 191.6h0M502.2 181.9h0M590.0 227.2h0M535.6 172.0h0M516.0 199.3h0M507.6 146.8h0M492.1 144.5h0M577.6 187.2h0M578.1 188.6h0M516.8 155.3h0M595.0 191.6h0M562.1 150.1h0M584.9 206.2h0M561.2 163.0h0M599.3 190.4h0M495.8 185.2h0M595.5 189.2h0M574.1 187.4h0M499.7 194.4h0M522.0 188.0h0M584.7 171.7h0M583.1 217.2h0M572.0 240.9h0M491.7 146.2h0M523.5 153.0h0M491.7 191.7h0M521.7 206.1h0M585.8 209.0h0M514.2 144.4h0M541.0 224.3h0M541.9 120.2h0M583.6 128.3h0M580.8 215.1h0M570.3 198.0h0M565.1 189.3h0M576.1 222.4h0M517.1 200.5h0M579.2 199.5h0M506.7 182.8h0M478.1 188.8h0M550.8 132.7h0M595.6 193.4h0M544.4 174.8h0M483.4 176.9h0M546.6 190.3h0M570.6 151.9h0M538.2 139.6h0M526.3 136.6h0M573.7 226.5h0M537.2 138.1h0M527.3 156.6h0M567.4 227.6h0M509.5 136.2h0M576.9 226.1h0M541.7 138.3h0M574.3 239.0h0M503.7 222.6h0M495.8 188.2h0M549.8 161.1h0M551.0 133.2h0M500.6 146.1h0M565.4 170.7h0M565.0 222.9h0M533.0 170.4h0M499.5 154.3h0M498.7 163.8h0M593.2 210.3h0M531.3 217.2h0M501.7 219.1h0M546.0 196.7h0M590.3 164.7h0M581.7 144.9h0M506.2 233.0h0M588.2 222.4h0M526.3 154.6h0M503.7 144.9h0M527.6 247.4h0M539.5 161.4h0M533.4 139.6h0M585.3 215.2h0M570.6 203.3h0M538.8 134.0h0M507.8 212.8h0M491.3 157.6h0M533.6 169.2h0M552.8 210.8h0M578.1 173.8h0M487.0 181.9h0M537.4 134.0h0M499.9 181.3h0M496.1 149.8h0M567.9 162.1h0M551.4 227.6h0M497.8 188.4h0M562.9 184.1h0M566.1 159.0h0M610.6 182.5h0M508.8 178.5h0M526.5 161.3h0M604.0 176.9h0M586.0 193.7h0M516.1 211.5h0M608.2 208.4h0M550.0 126.6h0M535.6 133.7h0M560.8 236.5h0M574.3 176.4h0M545.8 119.1h0M566.6 132.6h0M547.2 214.5h0M577.2 191.4h0M552.7 227.2h0M521.7 181.3h0M494.5 204.0h0M519.7 128.9h0M502.2 219.4h0M608.9 175.3h0M586.6 202.0h0M546.9 143.0h0M597.3 189.1h0M504.8 184.9h0M499.1 177.9h0M502.9 139.7h0M572.9 166.8h0M576.6 168.3h0M555.7 228.9h0M506.9 137.4h0M602.6 166.0h0M601.1 210.9h0M496.8 207.6h0M548.4 158.0h0M497.0 198.8h0M557.1 160.4h0M541.1 224.1h0M532.7 192.4h0M582.1 209.5h0M591.6 185.3h0M551.7 190.5h0M546.5 141.1h0M532.1 214.6h0M484.3 154.8h0M582.9 190.7h0M577.2 178.1h0M515.1 188.5h0M556.5 236.9h0M523.6 185.6h0M529.6 154.2h0M525.3 235.3h0M554.0 137.8h0M495.5 159.0h0M542.8 223.1h0M575.5 169.5h0M528.2 193.4h0M523.9 186.4h0M509.1 166.4h0M542.9 185.8h0M561.5 144.0h0M558.9 213.9h0M543.1 234.1h0M504.0 239.1h0M563.7 174.7h0M495.6 205.4h0M528.0 208.3h0M480.4 187.8h0M509.2 201.3h0M540.1 220.1h0M568.5 228.2h0M583.1 220.8h0M554.7 198.8h0M554.2 183.6h0M509.8 188.4h0M599.6 197.2h0M571.3 146.6h0M514.9 223.9h0M547.7 208.1h0M548.7 153.4h0M574.5 143.7h0M484.4 169.5h0M598.3 158.6h0M586.4 167.5h0M514.9 208.5h0M528.9 143.8h0M572.9 141.0h0M501.9 215.1h0M491.4 221.2h0M500.9 170.7h0M583.5 195.9h0M527.7 153.7h0M513.7 128.2h0M523.1 169.1h0M517.9 227.3h0M511.8 177.5h0M486.3 172.1h0M616.1 188.0h0M560.6 209.4h0M556.7 229.4h0M565.7 136.4h0M523.4 161.2h0M549.5 163.8h0M506.4 212.0h0M476.9 165.2h0M563.9 141.3h0M543.9 184.1h0M487.8 191.3h0M479.3 172.6h0M587.7 162.4h0M532.8 221.2h0M547.5 218.5h0M531.2 219.7h0M572.9 143.2h0M492.6 165.0h0M495.8 141.7h0M518.1 145.7h0M554.6 177.0h0M508.3 173.5h0M598.7 196.7h0M526.9 155.3h0M597.0 196.9h0M542.6 217.5h0M509.0 191.1h0M584.4 138.4h0M540.6 185.5h0M531.9 194.1h0M565.7 190.6h0M574.1 183.1h0M499.9 159.6h0M554.5 215.7h0M492.4 195.4h0M554.7 203.8h0M547.2 150.4h0M531.3 232.5h0M594.3 200.7h0M562.3 141.6h0M537.0 207.4h0M537.6 143.3h0M531.5 170.3h0M506.8 170.8h0M581.6 199.3h0M551.0 217.8h0M525.5 174.7h0M522.9 142.8h0M515.2 234.7h0M485.2 162.5h0M546.8 180.6h0M487.9 184.4h0M564.2 176.3h0M557.6 133.4h0M536.1 198.2h0M496.6 174.8h0M482.3 200.4h0M569.5 176.6h0M503.1 229.0h0M585.1 228.4h0M504.4 222.9h0M521.6 177.0h0M484.0 182.4h0M520.9 164.7h0M551.8 190.6h0M530.9 131.7h0M584.2 195.1h0M555.8 225.5h0M578.4 150.8h0M492.2 139.8h0M591.8 220.3h0M582.6 225.6h0M558.3 211.3h0M499.5 182.6h0M550.4 210.2h0M559.8 211.1h0M547.7 159.8h0M597.0 206.3h0M572.0 117.7h0M582.1 193.8h0M546.0 145.5h0M533.6 221.6h0M517.6 201.0h0M589.9 209.6h0M594.6 191.2h0M585.8 223.3h0M501.0 170.0h0M536.7 224.8h0M531.5 119.4h0M535.5 142.5h0M508.2 222.4h0M535.6 156.7h0M494.2 163.8h0M544.3 211.0h0M511.6 207.9h0M526.4 192.4h0M497.2 157.4h0M530.0 153.5h0M487.7 146.0h0M506.1 213.8h0M540.5 184.0h0M563.4 167.5h0M563.3 157.3h0M594.2 157.0h0M543.2 226.9h0M556.5 228.2h0M503.1 183.8h0M544.3 211.9h0M480.8 191.7h0M574.9 151.4h0M562.3 180.1h0M550.8 229.8h0M607.7 177.9h0M546.3 133.6h0M603.2 194.0h0M534.9 140.8h0M524.7 174.5h0M558.6 176.6h0M478.9 159.0h0M582.7 202.4h0M553.7 148.3h0M513.4 157.3h0M508.8 203.9h0M534.9 219.8h0M570.4 214.9h0M545.0 195.9h0M492.6 143.8h0M570.6 193.4h0M500.2 158.3h0M504.6 161.5h0M609.2 168.4h0M569.9 226.0h0M538.7 220.4h0M539.0 179.2h0M534.9 136.3h0M609.6 162.2h0M550.1 203.6h0M515.0 177.0h0M565.7 206.2h0M553.0 164.2h0M571.7 226.0h0M527.6 194.7h0M542.4 139.8h0M597.3 182.0h0M499.4 191.2h0M515.4 150.3h0M561.5 225.5h0M567.4 185.9h0M556.4 233.4h0M542.8 208.6h0M576.8 165.4h0M497.7 130.6h0M513.2 164.0h0M549.8 125.1h0M484.0 204.4h0M537.7 185.4h0M560.8 205.4h0M563.3 203.8h0M562.3 168.8h0M538.7 180.4h0M588.5 147.0h0M576.6 157.5h0M570.9 190.5h0M529.1 169.7h0M558.0 155.8h0M524.1 171.8h0M524.5 175.8h0M551.5 132.5h0M501.0 206.9h0M553.9 178.3h0M526.1 213.0h0M522.1 211.2h0M590.6 154.6h0M510.3 175.0h0M497.6 162.3h0M582.6 160.1h0M571.6 157.8h0M573.2 199.5h0M541.8 126.1h0M585.1 161.9h0M604.2 165.2h0M513.7 208.3h0M545.7 150.0h0M564.0 201.4h0M551.5 202.4h0M528.4 231.8h0M588.4 192.8h0M573.1 188.3h0M597.2 190.6h0M561.3 198.5h0M506.9 226.0h0M508.9 184.3h0M576.4 186.3h0M511.6 225.2h0M488.7 194.1h0M537.1 182.8h0M575.4 231.6h0M480.1 149.6h0M502.4 172.6h0M518.2 134.6h0M566.3 211.0h0M540.0 152.1h0M508.0 189.6h0M530.2 220.0h0M542.4 235.1h0M503.7 206.7h0M520.0 180.8h0M596.0 179.8h0M546.2 226.2h0M509.4 223.1h0M563.0 198.9h0M576.3 171.3h0M527.8 182.4h0M533.4 173.4h0M605.4 190.3h0M507.5 131.2h0M594.9 161.5h0M513.6 163.3h0M578.5 183.5h0M537.6 189.8h0M483.4 214.1h0M478.1 189.0h0M580.7 220.3h0M548.7 160.2h0M525.3 181.3h0M507.0 144.1h0M567.6 214.0h0M514.8 218.1h0M531.8 172.5h0M567.5 209.7h0M569.3 232.1h0M588.3 217.1h0M523.7 114.6h0M527.7 195.0h0M558.3 215.9h0M544.6 205.1h0M512.1 139.4h0M536.3 217.5h0M559.2 158.4h0M533.2 151.5h0M586.7 183.3h0M504.3 202.4h0M536.0 216.4h0M529.0 146.3h0M503.3 182.9h0M505.1 195.7h0M502.2 195.8h0M565.1 138.0h0M573.5 146.7h0M491.4 156.8h0M496.1 233.7h0M532.4 228.2h0M517.4 216.4h0M555.8 179.6h0M519.9 169.8h0M546.8 169.3h0M554.5 187.2h0M514.3 144.2h0M507.9 172.9h0M489.0 182.4h0M518.8 165.7h0M585.4 211.4h0M492.6 165.3h0M486.2 174.7h0M559.6 145.1h0M487.6 212.0h0M572.2 142.4h0M553.2 142.8h0M508.2 191.9h0M557.1 187.2h0M530.5 128.8h0M550.2 134.6h0M585.8 195.0h0M543.4 171.5h0M554.4 149.6h0M511.8 143.1h0M548.2 163.2h0M517.2 218.5h0M539.1 218.1h0M547.3 144.0h0M510.6 179.6h0M551.8 186.6h0M542.1 201.9h0M580.6 152.2h0M590.6 202.2h0M578.4 204.9h0M572.8 176.4h0M512.4 141.3h0M590.3 150.3h0M581.1 233.5h0M591.1 211.3h0M589.1 189.3h0M586.6 230.9h0M517.2 135.6h0M554.6 179.5h0M514.5 132.6h0M573.4 179.9h0M572.1 133.2h0M524.7 223.6h0M488.0 239.5h0M553.8 190.4h0M553.1 230.5h0M519.0 183.1h0M522.9 158.3h0M564.3 163.8h0M565.3 173.9h0M585.3 166.8h0M528.0 114.3h0M493.9 187.6h0M560.5 203.2h0M566.9 170.0h0M558.0 181.2h0M499.8 182.1h0M487.2 151.3h0M500.6 221.1h0M600.8 178.7h0M505.7 162.7h0M559.6 186.3h0M526.4 177.0h0M600.3 152.7h0M506.3 209.5h0M495.8 235.9h0M586.3 177.3h0M546.2 182.7h0M571.1 151.0h0M586.4 219.8h0M480.6 180.8h0M562.1 134.4h0M593.0 230.5h0M581.9 198.3h0M515.9 195.7h0M503.0 222.5h0M606.2 204.1h0M533.8 138.9h0M496.4 148.3h0M570.8 145.4h0M518.5 174.1h0M481.5 203.3h0M580.2 197.6h0M528.3 194.0h0M598.2 177.5h0M482.4 176.4h0M598.7 152.7h0M592.3 223.8h0M490.8 184.1h0M538.9 153.8h0M542.5 213.4h0M515.4 143.5h0M511.2 199.2h0M528.5 237.0h0M577.9 175.3h0M568.9 154.5h0M492.7 152.5h0M569.2 214.2h0M550.6 204.3h0M596.7 190.2h0M529.2 174.1h0M529.9 166.3h0M511.1 227.2h0M545.4 144.1h0M607.2 173.2h0M518.6 148.8h0M541.5 145.9h0M553.0 152.2h0M517.6 155.0h0M586.9 179.9h0M550.3 127.8h0M514.7 187.0h0M498.0 147.1h0M534.1 214.0h0M499.0 144.2h0M549.9 201.7h0M553.4 151.5h0M595.1 232.5h0M592.2 205.1h0M582.7 211.7h0M501.2 171.0h0M588.0 236.4h0M574.9 195.4h0M540.0 216.5h0M541.0 204.1h0M507.3 216.5h0M581.2 236.5h0M510.8 229.4h0M531.8 118.7h0M563.6 191.3h0M518.1 237.8h0M560.7 208.3h0M539.1 119.3h0M564.9 201.6h0M586.2 156.2h0M570.5 179.0h0M538.7 206.5h0M533.1 171.6h0M549.3 220.8h0M494.9 200.0h0M591.6 217.9h0M583.8 150.0h0M547.0 154.1h0M593.4 213.6h0M593.0 174.6h0M564.0 192.1h0M604.5 196.0h0M541.5 138.8h0M538.1 176.0h0M598.9 191.3h0M594.2 230.1h0M470.0 193.5h0M595.9 161.4h0M571.5 149.6h0M482.8 177.1h0M564.9 148.5h0M538.4 210.0h0M581.2 199.8h0M560.7 225.5h0M512.2 132.7h0M542.2 174.5h0M505.6 153.5h0M532.8 196.9h0M607.7 192.8h0M495.4 191.4h0M581.5 163.8h0M511.0 184.2h0M551.1 191.2h0M501.7 229.1h0M511.5 150.1h0M522.6 162.3h0M554.5 164.5h0M609.0 185.3h0M547.9 181.2h0M518.3 125.6h0M535.5 195.8h0M515.3 148.9h0M473.7 207.3h0M545.0 190.3h0M594.7 197.8h0M536.6 195.8h0M520.8 189.3h0M544.7 153.1h0M534.8 195.8h0M573.0 187.3h0M540.1 178.3h0M595.8 175.8h0M559.0 159.5h0M552.3 187.4h0M584.3 160.5h0M556.9 225.9h0M567.7 185.7h0M595.0 182.5h0M581.4 210.9h0M509.7 152.4h0M586.5 210.8h0M580.3 178.9h0M567.0 155.5h0M580.9 150.1h0M598.4 175.5h0M495.5 201.2h0M583.5 176.6h0M558.1 216.2h0M586.8 162.6h0M544.7 213.9h0M590.1 211.8h0M555.9 205.8h0M556.8 158.0h0M580.5 149.8h0M495.1 178.4h0M509.6 207.7h0M586.2 169.8h0M605.9 181.2h0M489.9 196.9h0M548.8 208.5h0M534.2 211.4h0M574.2 228.5h0M552.9 181.8h0M502.8 154.5h0M509.7 170.1h0M524.9 161.7h0M612.4 170.9h0M518.0 173.6h0M567.5 234.3h0M552.5 227.7h0M511.7 156.4h0M582.9 221.5h0M531.4 165.6h0M562.1 173.1h0M529.4 224.0h0M527.8 197.6h0M546.7 171.7h0M523.1 218.0h0M557.8 227.2h0M561.2 181.5h0M532.7 176.4h0M518.9 154.5h0M512.9 225.1h0M508.6 211.1h0M609.2 162.8h0M532.3 228.1h0M592.3 193.5h0M494.5 179.0h0M540.1 128.3h0M521.1 167.3h0M566.4 192.9h0M567.8 168.6h0M588.0 195.8h0M575.0 196.5h0M513.2 182.4h0M532.4 181.6h0M515.2 206.7h0M543.7 227.1h0M547.3 202.8h0M495.3 136.8h0M481.7 173.7h0M590.4 171.5h0M562.0 193.0h0M537.2 188.8h0M557.3 167.2h0M534.0 127.6h0M503.3 187.3h0M483.0 188.3h0M526.2 156.5h0M496.2 192.1h0M560.1 223.6h0M563.3 225.9h0M526.9 226.6h0M584.5 184.7h0M506.5 221.7h0M575.8 187.3h0M565.6 151.7h0M595.8 194.2h0M610.9 161.2h0M544.9 164.9h0M585.5 202.3h0M510.1 149.6h0M521.2 211.5h0M574.2 174.0h0M557.0 246.2h0M596.7 146.3h0M499.2 175.4h0M561.9 213.6h0M482.6 187.9h0M525.1 188.7h0M492.8 181.3h0M489.1 153.4h0M571.8 199.3h0M534.0 163.3h0M527.7 176.6h0M589.2 169.8h0M505.1 197.3h0M488.1 149.4h0M595.9 198.7h0M581.0 184.3h0M608.5 174.4h0M577.5 196.6h0M489.2 202.7h0M537.8 184.0h0M551.4 184.5h0M553.3 198.0h0M533.8 222.0h0M585.6 167.1h0M591.4 217.6h0M522.2 218.3h0M579.6 182.9h0M555.7 141.4h0M560.7 177.9h0M563.8 143.5h0M583.9 193.1h0M577.8 194.0h0M546.4 143.5h0M545.6 196.3h0M553.7 194.5h0M487.9 202.5h0M566.6 178.1h0M552.7 222.2h0M603.7 195.7h0M604.0 170.9h0M538.3 196.3h0M528.5 197.5h0M578.9 143.3h0M512.1 202.1h0M561.9 192.5h0M583.7 168.5h0M527.4 170.1h0M478.4 181.8h0M522.4 184.8h0M529.7 210.1h0M512.7 154.4h0M499.8 211.8h0M532.1 234.3h0M581.7 235.8h0M552.9 226.5h0M545.8 125.8h0M589.5 195.2h0M546.8 224.7h0M567.7 194.7h0M595.4 145.5h0M566.2 204.9h0M500.5 220.3h0M542.1 222.6h0M523.6 136.6h0M582.1 209.3h0M489.6 191.1h0M569.2 220.8h0M578.0 148.8h0M596.5 166.9h0M571.1 189.9h0M494.2 196.6h0M495.3 132.6h0M582.4 160.0h0M564.7 142.7h0M534.9 146.2h0M510.7 140.0h0M527.5 157.3h0M566.7 167.4h0M550.6 135.1h0M526.5 153.7h0M533.6 148.1h0M507.6 189.9h0M546.3 154.8h0M534.3 213.0h0M590.9 240.9h0M494.8 175.1h0M522.9 206.3h0M597.2 165.6h0M562.6 174.4h0M575.3 174.5h0M549.4 133.3h0M604.5 177.7h0M526.4 166.3h0M577.6 209.3h0M546.7 191.3h0M504.5 150.7h0M491.2 159.5h0M562.8 232.4h0M535.4 182.7h0M533.1 176.4h0M547.2 183.5h0M576.9 177.8h0M498.6 210.5h0M524.8 163.1h0M504.2 182.9h0M604.6 156.0h0M557.9 146.8h0M560.6 163.9h0M556.1 145.1h0M518.9 200.7h0M595.9 168.8h0M550.7 176.8h0M533.7 203.6h0M549.0 138.4h0M586.3 157.3h0M571.4 221.9h0M497.4 199.3h0M530.3 188.8h0M561.3 218.3h0M552.4 140.9h0M542.1 172.6h0M560.2 131.6h0M536.6 166.9h0M551.1 209.8h0M570.0 161.5h0M550.3 189.3h0M485.0 134.4h0M528.4 192.5h0M550.6 135.6h0M593.6 149.0h0M495.7 197.5h0M552.1 208.2h0M558.6 217.3h0M506.2 161.2h0M563.8 192.6h0M553.1 145.9h0M524.5 202.6h0M488.3 196.6h0M485.7 174.5h0M547.8 171.4h0M576.3 157.6h0M599.0 197.7h0M515.7 156.8h0M508.7 184.0h0M583.4 215.5h0M539.0 188.0h0M589.4 219.0h0M603.6 169.7h0M551.1 131.0h0M591.4 194.4h0M595.8 144.0h0M545.2 204.2h0M560.6 132.0h0M537.0 189.1h0M569.3 201.5h0M542.7 221.3h0M535.1 183.8h0M491.7 182.0h0M508.5 235.0h0M545.7 128.8h0M553.2 152.3h0M492.4 203.4h0M578.0 147.6h0M573.2 188.8h0M549.1 144.7h0M551.8 194.1h0M554.6 148.8h0M586.5 234.8h0M581.2 173.8h0M496.0 182.6h0M521.1 142.5h0M560.3 155.0h0M551.6 129.6h0M579.7 222.8h0M496.8 154.6h0M564.7 136.4h0M574.0 134.0h0M479.5 183.6h0M607.3 163.8h0M548.4 182.5h0M553.1 147.8h0M567.9 232.2h0M547.3 147.3h0M554.1 156.3h0M552.5 212.9h0M527.6 127.7h0M602.8 151.5h0M494.9 200.8h0M539.5 178.2h0M547.2 183.5h0M549.2 144.1h0M509.5 153.3h0M508.7 157.8h0M560.4 167.5h0M585.0 173.0h0M507.8 215.8h0M589.4 221.9h0M554.8 216.7h0M500.1 166.5h0M554.9 146.9h0M553.7 144.0h0M494.6 206.0h0M572.3 148.4h0M516.9 141.6h0M546.9 166.4h0M586.1 198.9h0M480.3 205.7h0M547.1 200.7h0M553.7 151.0h0M523.9 217.0h0M519.6 158.6h0M568.3 163.6h0M578.3 204.6h0M585.0 199.2h0M553.9 138.7h0M541.3 182.8h0M505.0 212.5h0M586.7 174.0h0M520.1 216.3h0M578.2 143.1h0M547.2 198.2h0M516.1 214.7h0M495.7 191.4h0M552.2 150.5h0M534.1 166.0h0M489.6 165.8h0M548.2 197.5h0M576.1 157.0h0M526.6 221.2h0M596.4 206.0h0M514.9 173.0h0M471.6 181.2h0M575.6 143.8h0M582.0 170.1h0M558.1 160.7h0M489.7 150.1h0M550.0 187.5h0M512.0 189.4h0M553.4 157.6h0M567.8 196.1h0M575.2 193.7h0M578.3 154.6h0M520.3 146.9h0M491.7 172.0h0M547.9 169.0h0M605.8 168.7h0M586.1 209.0h0M544.5 197.1h0M539.3 202.4h0M488.3 177.6h0M494.6 193.5h0M588.7 178.4h0M565.7 141.4h0M563.3 226.8h0M567.7 214.3h0M498.6 157.0h0M527.6 153.4h0M604.0 181.7h0M521.5 195.9h0M567.3 219.0h0M563.4 183.5h0M529.1 132.5h0M505.4 143.3h0M583.7 173.4h0M515.8 156.9h0M578.7 151.9h0M498.3 177.5h0M574.9 143.2h0M528.9 150.3h0M591.1 223.7h0M527.6 168.2h0M517.4 165.8h0M553.5 195.2h0M555.6 189.7h0M567.4 196.6h0M569.2 145.0h0M596.2 166.6h0M560.7 230.6h0M532.7 166.1h0M560.6 145.5h0M540.8 195.7h0M526.4 214.4h0M516.7 179.5h0M553.4 165.6h0M597.2 213.1h0M582.5 146.7h0M599.4 182.5h0M510.6 135.4h0M500.4 208.8h0M487.5 178.2h0M548.0 240.2h0M564.4 182.9h0M552.8 221.9h0M578.6 210.1h0M598.7 198.1h0M544.0 225.8h0M507.6 188.2h0M527.3 151.3h0M575.5 193.7h0M505.1 204.8h0M525.0 169.7h0M524.1 217.8h0M527.7 207.7h0M580.7 187.8h0M576.3 224.7h0M527.9 184.4h0M531.3 159.7h0M547.9 196.4h0M517.0 146.8h0M551.6 135.4h0M477.9 168.4h0M479.2 182.4h0M581.9 166.9h0M505.3 206.8h0M512.1 154.0h0M576.9 218.0h0M580.8 196.1h0M494.4 212.9h0M613.5 181.4h0M497.4 135.1h0M509.0 142.6h0M595.9 211.2h0M581.0 154.5h0M560.2 167.3h0M549.2 185.2h0M513.2 227.5h0M582.1 172.7h0M515.3 179.7h0M490.4 158.0h0M529.9 189.2h0M598.8 194.4h0M544.5 168.7h0M532.1 226.4h0M524.5 234.3h0M526.2 198.5h0M541.2 125.8h0M546.9 208.9h0M556.3 202.0h0M525.3 225.1h0M554.0 200.6h0M576.8 164.6h0M580.6 204.6h0M594.9 191.3h0M573.8 176.3h0M531.1 204.6h0M556.0 137.5h0M588.1 157.1h0M480.3 196.1h0M557.5 174.5h0M527.2 174.4h0M536.6 127.1h0M564.0 189.8h0M483.1 152.2h0M568.3 196.0h0M491.8 192.7h0M539.9 210.9h0M501.0 201.7h0M540.7 163.4h0M494.6 142.5h0M529.2 201.1h0M494.0 150.6h0M576.9 232.4h0M585.3 184.3h0M516.1 177.4h0M481.2 175.7h0M518.7 165.3h0M500.7 181.5h0M524.3 221.5h0M572.6 159.6h0M531.1 186.0h0M549.2 209.1h0M536.1 222.0h0M517.6 230.1h0M575.3 219.2h0M529.5 177.7h0M534.2 196.6h0M571.8 160.8h0M489.6 151.2h0M501.2 189.9h0M523.5 201.8h0M502.9 185.6h0M512.2 135.3h0M567.0 207.7h0M509.4 184.6h0M546.4 130.8h0M594.8 158.1h0M556.0 146.9h0M492.2 145.7h0M531.3 218.5h0M561.9 157.5h0M535.8 197.0h0M566.4 207.1h0M512.4 210.6h0M546.6 161.6h0M505.9 145.1h0M508.9 201.5h0M592.0 160.8h0M494.6 200.3h0M495.4 156.1h0M487.3 182.3h0M482.8 173.2h0M509.3 141.2h0M472.7 156.3h0M546.8 131.8h0M508.2 161.5h0M557.9 146.1h0M543.3 164.9h0M564.8 220.2h0M508.9 220.4h0M594.5 151.1h0M495.7 172.2h0M509.6 198.3h0M562.2 140.3h0M575.3 192.6h0M494.6 162.1h0M588.3 131.3h0M500.4 157.7h0M544.1 145.3h0M488.8 177.9h0M588.4 187.8h0M573.5 144.0h0M582.7 201.4h0M520.4 133.8h0M555.7 203.7h0M529.0 220.0h0M556.6 199.8h0M523.8 190.4h0M509.0 198.8h0M558.3 202.6h0M564.6 177.7h0M561.2 218.8h0M551.8 153.4h0M520.6 207.2h0M526.1 194.7h0M555.3 205.3h0M596.2 179.9h0M506.2 199.5h0M585.5 211.3h0M498.1 150.0h0M530.1 162.9h0M544.1 128.2h0M532.0 152.4h0M512.4 142.5h0M505.5 233.8h0M531.2 206.6h0M532.9 186.8h0M515.4 156.2h0M507.4 155.4h0M567.7 182.5h0M498.6 184.7h0M499.9 233.1h0M499.6 210.6h0M548.6 188.7h0M551.7 161.5h0M496.6 144.8h0M524.2 193.9h0M531.3 197.4h0M578.3 230.2h0M525.5 201.0h0M589.2 184.0h0M544.1 162.3h0M593.0 163.3h0M555.2 118.0h0M500.5 218.8h0M548.5 144.2h0M510.8 200.6h0M570.2 161.7h0M587.3 206.4h0M496.0 231.8h0M566.3 220.3h0M545.7 127.4h0M520.9 210.9h0M488.9 208.1h0M540.1 184.4h0M565.2 150.9h0M562.8 189.5h0M575.9 136.3h0M538.9 190.2h0M498.8 144.1h0M581.4 155.9h0M490.1 189.2h0M509.7 133.9h0M493.0 196.1h0M573.9 175.6h0M513.9 163.9h0M542.1 181.3h0M541.2 191.8h0M536.1 165.3h0M525.8 147.5h0M560.8 189.7h0M545.9 132.1h0M525.2 168.5h0M556.3 128.3h0M573.1 155.4h0M561.7 224.6h0M606.6 185.8h0M537.3 148.2h0M504.2 170.7h0M495.3 207.2h0M596.1 210.2h0M541.6 204.0h0M518.5 192.6h0M559.0 159.0h0M540.7 183.4h0M585.9 154.3h0M588.9 174.5h0M592.1 220.3h0M591.6 163.1h0M518.7 171.0h0M545.0 130.9h0M531.3 131.6h0M589.6 165.2h0M572.5 162.8h0M530.3 206.2h0M555.3 164.0h0M547.0 177.1h0M550.6 165.6h0M575.6 130.2h0M593.1 168.3h0M548.9 128.7h0M549.2 183.4h0M546.9 124.4h0M595.7 185.6h0M609.2 222.4h0M539.9 195.8h0M531.5 206.7h0M509.9 166.0h0M552.9 188.8h0M562.2 194.7h0M554.3 193.2h0M549.6 204.6h0M536.6 168.1h0M521.1 179.4h0M516.6 159.2h0M553.4 163.6h0M495.3 142.1h0M518.9 135.5h0M494.2 183.0h0M527.7 139.0h0M582.8 140.1h0M530.0 185.0h0M495.4 208.5h0M538.8 170.0h0M546.1 214.9h0M558.9 146.8h0M616.5 176.9h0M601.5 184.5h0M501.4 171.8h0M588.4 192.0h0M601.8 178.2h0M561.6 172.1h0M501.8 158.6h0M494.8 196.8h0M563.3 219.9h0M587.9 208.7h0M541.6 140.4h0M514.2 223.6h0M599.1 199.1h0M545.4 161.1h0M573.1 178.7h0M585.8 217.6h0M545.4 122.3h0M507.6 194.5h0M502.4 178.3h0M523.2 183.9h0M543.7 220.0h0M594.6 174.6h0M508.6 210.9h0M593.6 168.7h0M532.9 151.6h0M545.9 186.7h0M563.4 141.9h0M516.0 216.9h0M549.0 220.0h0M491.2 148.9h0M586.2 149.7h0M488.4 174.1h0M595.1 199.6h0M590.1 216.4h0M576.1 141.6h0M587.6 205.4h0M589.9 153.2h0M491.9 162.4h0M555.7 200.2h0M527.9 230.5h0M520.8 211.8h0M523.2 217.6h0M561.0 162.0h0M514.3 226.2h0M523.4 154.6h0M544.0 139.7h0M567.7 170.6h0M518.4 195.6h0M553.6 204.5h0M531.0 229.7h0M503.6 157.6h0M525.4 215.8h0M517.5 141.9h0M515.4 151.0h0M596.7 159.9h0M548.8 194.0h0M579.7 148.3h0M503.2 142.7h0M548.8 232.9h0M503.4 168.2h0M546.5 176.6h0M514.5 216.5h0M541.2 127.8h0M532.6 174.4h0M562.3 158.7h0M580.3 148.3h0M518.1 218.6h0M545.5 163.6h0M511.9 166.3h0M504.9 161.4h0M553.1 229.4h0M534.4 233.4h0M555.7 150.3h0M597.2 154.5h0M589.2 151.5h0M488.1 190.2h0M575.3 174.4h0M586.0 189.4h0M547.6 149.1h0M551.7 186.3h0M568.0 168.7h0M556.0 173.3h0M543.6 149.7h0M587.1 212.2h0M538.1 163.8h0M557.8 226.5h0M498.2 203.2h0M591.2 220.3h0M509.8 167.5h0M572.0 160.0h0M577.6 160.5h0M581.2 178.4h0M599.3 176.0h0M565.5 147.8h0M523.6 211.9h0M546.7 129.1h0M536.7 187.6h0M524.5 199.1h0M488.2 190.6h0M472.0 142.7h0M524.1 201.5h0M556.1 201.8h0M511.4 147.0h0M553.4 138.1h0M594.9 154.6h0M518.7 146.6h0M500.8 143.0h0M546.6 186.7h0M573.3 150.0h0M510.9 213.8h0M584.8 184.1h0M596.5 144.2h0M576.4 157.9h0M516.7 210.6h0M600.0 190.0h0M545.0 233.4h0M528.9 219.3h0M521.5 168.6h0M591.9 198.4h0M477.1 171.8h0M520.2 155.3h0M572.3 219.0h0M572.3 170.2h0M536.3 121.6h0M494.4 158.4h0M611.9 167.8h0M594.8 188.6h0M582.2 158.1h0M600.8 160.6h0M523.8 156.3h0M490.2 205.5h0M574.5 229.8h0M545.4 151.2h0M564.3 204.2h0M592.7 166.8h0M588.4 124.2h0M590.4 229.3h0M568.0 204.2h0M537.7 151.2h0M558.3 212.5h0M569.7 193.1h0M533.9 138.0h0M513.4 151.6h0M511.2 207.5h0M570.6 158.6h0M593.8 238.5h0M536.6 156.2h0M581.5 145.3h0M508.4 213.0h0M616.5 137.0h0M544.1 146.6h0M538.4 151.8h0M573.4 209.7h0M474.8 163.9h0M608.8 184.4h0M546.5 127.6h0M520.2 211.2h0M605.1 187.6h0M569.8 139.0h0M530.9 216.1h0M544.9 158.0h0M549.9 132.6h0M588.0 171.9h0M550.4 166.7h0M561.3 169.6h0M586.3 184.5h0M510.4 178.4h0M479.9 203.7h0M570.1 173.8h0M558.1 219.9h0M556.8 234.1h0M519.2 212.9h0M524.7 154.9h0M553.9 172.3h0M535.7 150.1h0M583.8 160.6h0M485.4 168.4h0M568.1 192.0h0M523.5 230.9h0M571.5 147.3h0M574.0 184.4h0M538.3 140.6h0M516.9 199.3h0M573.2 185.5h0M532.8 221.8h0M532.9 179.8h0M532.4 113.8h0M560.9 222.8h0M511.7 182.2h0M559.8 112.3h0M553.9 154.4h0M503.1 192.4h0M533.6 169.3h0M591.0 210.9h0M578.0 198.4h0M591.5 167.8h0M498.0 166.7h0M570.2 163.3h0M476.2 184.1h0M519.5 184.0h0M519.6 126.7h0M509.5 187.7h0M509.8 233.3h0M473.5 191.2h0M584.3 183.4h0M532.9 124.4h0M591.0 193.5h0M529.2 222.9h0M492.8 175.5h0M570.0 234.6h0M566.3 229.9h0M506.3 158.7h0M597.7 172.6h0M544.7 223.3h0M546.7 199.2h0M532.1 226.5h0M538.7 200.9h0M501.9 178.5h0M524.3 202.4h0M537.2 176.3h0M579.7 189.0h0M545.4 217.0h0M598.0 156.7h0M524.5 225.8h0M560.6 229.6h0M559.4 142.4h0M500.3 142.3h0M519.0 173.6h0M527.4 202.7h0M582.3 157.5h0M494.6 169.9h0M570.7 162.4h0M595.5 205.7h0M561.4 180.7h0M530.0 230.7h0M555.1 191.8h0M573.9 144.9h0M556.5 144.3h0M501.0 158.3h0M548.1 178.2h0M519.7 228.2h0M581.2 166.5h0M562.2 218.7h0M539.9 199.4h0M529.4 208.7h0M583.8 194.3h0M531.6 210.9h0M618.7 166.6h0M586.4 227.0h0M575.8 174.2h0M559.4 171.9h0M521.4 157.6h0M585.2 205.6h0M584.2 152.2h0M495.6 152.6h0M596.8 182.5h0M595.0 166.2h0M557.6 154.2h0M512.7 222.3h0M494.4 206.0h0M512.1 207.0h0M516.9 160.9h0M550.1 153.1h0M550.9 226.8h0M524.6 177.4h0M533.7 199.0h0M542.9 197.7h0M560.7 125.2h0M604.0 203.7h0M558.7 136.4h0M525.1 176.0h0M547.9 164.9h0M589.5 152.4h0M537.1 140.8h0M478.2 127.7h0M572.3 202.9h0M526.1 212.9h0M548.8 159.7h0M505.5 172.8h0M504.6 146.6h0M495.1 214.6h0M589.9 228.0h0M542.5 188.2h0M525.0 173.5h0M557.2 228.2h0M530.9 211.2h0M512.9 215.8h0M485.4 146.7h0M595.1 155.7h0M568.7 195.0h0M542.4 116.1h0M515.4 223.7h0M493.8 140.8h0M496.8 154.8h0M540.6 158.6h0M512.4 204.4h0M538.3 126.6h0M590.9 174.0h0M556.9 233.0h0M544.0 204.9h0M586.3 171.3h0M528.6 160.8h0M597.6 198.2h0M558.3 169.8h0M496.2 178.3h0M515.3 147.3h0M517.9 198.4h0M516.7 154.9h0M536.2 127.2h0M550.4 141.0h0M519.3 192.0h0M513.0 230.1h0M522.3 201.9h0M561.7 193.3h0M504.8 132.6h0M567.6 186.4h0M533.4 205.8h0M549.2 181.3h0M546.1 142.4h0M533.2 229.8h0M582.0 208.9h0M530.9 129.2h0M490.2 174.6h0M547.3 171.0h0M538.9 192.8h0M544.5 181.4h0M573.8 144.2h0M564.0 140.9h0M521.3 166.8h0M588.6 224.8h0M536.8 230.5h0M486.2 161.5h0M566.8 182.5h0M542.3 121.4h0M490.8 220.4h0M511.1 206.2h0M583.9 179.3h0M512.9 148.3h0M569.2 205.8h0M558.3 110.9h0M582.5 188.3h0M516.6 150.0h0M507.1 219.2h0M525.0 185.8h0M512.8 140.3h0M502.7 135.2h0M550.3 139.5h0M587.0 165.0h0M545.0 138.2h0M516.7 182.9h0M533.8 131.0h0M534.8 129.4h0M546.8 165.8h0M559.4 156.2h0M499.3 209.9h0M539.1 230.6h0M547.3 224.9h0M561.8 163.3h0M579.5 162.5h0M584.4 153.7h0M564.1 146.4h0M539.5 200.8h0M542.6 141.2h0M557.4 190.9h0M482.5 152.4h0M604.4 170.2h0M565.4 202.0h0M600.6 158.5h0M544.4 132.2h0M491.5 172.3h0M531.2 136.6h0M595.0 203.9h0M536.7 149.7h0M521.7 235.0h0M570.3 162.7h0M553.9 203.6h0M518.9 172.1h0M531.8 227.1h0M495.1 149.7h0M539.8 131.9h0M573.7 164.2h0M555.8 226.0h0M579.0 197.9h0M562.8 140.4h0M508.1 189.3h0M516.0 159.5h0M549.6 141.9h0M589.5 195.6h0M602.6 199.7h0M509.5 141.0h0M550.4 223.7h0M559.1 157.6h0M582.4 196.1h0M526.3 222.6h0M586.5 166.9h0M541.9 171.2h0M572.7 146.2h0M599.8 150.4h0M606.7 202.3h0M521.8 158.2h0M522.5 130.3h0M503.9 216.3h0M582.9 180.0h0M599.9 168.5h0M502.2 209.7h0M556.9 202.3h0M511.4 220.3h0M589.9 157.1h0M488.3 192.2h0M548.1 237.9h0M482.8 173.6h0M558.9 143.0h0M591.8 226.0h0M510.4 173.8h0M514.4 168.1h0M510.1 160.6h0M494.9 171.8h0M592.8 204.2h0M513.9 208.7h0M534.2 161.4h0M515.5 204.5h0M554.4 219.0h0M555.4 163.8h0M547.1 204.5h0M506.3 183.2h0M499.0 162.7h0M541.9 187.5h0M520.4 215.6h0M559.8 178.8h0M509.6 160.1h0M522.7 146.8h0M582.6 201.7h0M479.1 193.3h0M610.6 183.9h0M585.1 202.5h0M601.3 170.6h0M597.3 180.5h0M553.7 185.2h0M537.0 152.4h0M484.3 192.9h0M533.4 165.5h0M606.9 167.4h0M544.2 203.9h0M605.9 169.1h0M558.4 166.5h0M539.6 149.1h0M545.1 220.3h0M482.2 163.2h0M584.7 150.4h0M510.9 202.2h0M500.8 200.6h0M497.1 204.7h0M523.6 191.0h0M594.8 202.7h0M512.7 193.0h0M475.4 195.2h0M571.9 214.9h0M559.6 187.5h0M529.9 231.7h0M595.7 201.8h0M520.2 132.4h0M541.7 166.2h0M497.9 160.1h0M600.7 182.6h0M563.5 194.6h0M516.8 222.5h0M532.6 225.7h0M588.1 201.1h0M500.8 208.8h0M528.5 129.3h0M550.0 222.4h0M581.7 182.1h0M499.2 197.6h0M591.4 206.0h0M512.6 225.9h0M584.9 159.6h0M493.3 146.2h0M503.1 128.4h0M520.0 171.0h0M574.1 170.3h0M597.1 209.7h0M588.0 180.3h0M565.2 193.9h0M538.2 176.0h0M519.8 234.2h0M525.2 231.4h0M542.0 207.0h0M508.4 208.8h0M520.4 176.3h0M575.9 137.8h0M499.5 200.3h0M589.3 196.8h0M537.5 191.4h0M554.4 186.8h0M597.6 192.2h0M551.0 199.9h0M532.3 207.8h0M579.6 189.3h0M535.1 142.0h0M546.9 179.7h0M516.7 195.4h0M549.1 143.0h0M532.7 198.4h0M539.0 159.7h0M554.9 155.7h0M560.3 159.9h0M499.8 195.6h0M584.6 184.1h0M534.2 163.5h0M587.4 209.2h0M503.5 216.9h0M603.5 193.9h0M600.8 198.4h0M538.4 213.9h0M566.3 179.3h0M572.9 214.0h0M539.2 137.9h0M548.6 136.1h0M546.8 150.8h0M523.5 160.8h0M495.6 102.7h0M513.3 102.4h0M509.2 114.6h0M473.7 128.9h0M472.2 134.9h0M471.2 139.4h0M474.7 140.3h0M491.4 121.8h0M489.5 127.5h0M493.9 128.8h0M498.3 126.3h0M502.5 123.8h0M507.4 126.3h0M486.0 139.7h0M469.3 148.2h0M469.0 151.5h0M460.6 163.3h0M464.3 166.0h0M449.0 171.1h0M481.0 147.0h0M480.3 153.9h0M539.6 100.1h0M533.3 107.6h0M539.6 109.1h0M542.7 112.2h0M529.1 113.3h0M519.7 119.5h0M515.5 123.7h0M550.5 101.3h0M571.4 103.8h0M558.8 110.1h0M569.3 111.2h0M557.8 115.4h0M586.1 116.8h0M581.9 121.6h0M582.9 127.9h0M593.4 127.9h0M566.2 119.5h0M567.2 126.9h0M576.6 132.1h0M581.9 134.8h0M592.3 133.2h0M595.5 135.7h0M590.3 139.4h0M607.4 136.3h0M614.3 141.5h0M600.7 145.7h0M602.8 152.0h0M613.3 149.9h0M614.3 152.0h0M615.4 158.3h0M609.1 161.4h0M613.3 165.6h0M544.2 114.3h0M545.0 118.0h0M465.5 182.2h0M466.5 191.2h0M463.0 198.1h0M469.7 202.7h0M481.2 207.9h0M477.0 217.8h0M484.3 229.9h0M491.6 235.1h0M499.0 231.0h0M514.0 241.4h0M525.1 243.5h0M535.6 238.3h0M614.6 200.6h0M616.7 204.8h0M607.2 211.1h0M610.4 210.0h0M615.6 209.0h0M618.8 226.8h0M603.0 220.5h0M543.4 244.1h0M553.8 242.5h0M558.0 244.6h0M567.5 247.1h0M555.0 248.3h0M591.5 239.3h0M583.2 236.2h0M508.9 233.8h0M500.1 252.2h0M536.1 251.8h0M532.6 238.1h0M537.8 239.0h0M555.3 259.7h0M563.2 239.0h0M579.5 252.7h0M594.8 257.4h0M431.2 191.7h0M468.3 193.1h0M468.3 175.9h0M471.7 150.0h0M495.6 125.8h0M535.0 113.0h0M539.0 117.9h0M527.1 120.8h0M470.0 169.1h0M474.0 175.0h0M477.9 181.0h0M611.9 171.0h0M616.2 176.2h0M632.6 173.6h0M617.1 181.4h0M616.2 185.7h0M624.0 190.3h0M611.9 190.0h0M607.6 193.4h0M620.5 202.0h0M605.9 205.5h0M612.8 208.1h0M624.8 208.1h0" stroke="#a6a6a6" stroke-width="6.0" stroke-linecap="round" fill="none"/>
<path d="M465.7 156.7h0M509.2 166.7h0M514.8 167.4h0M507.4 169.9h0M518.5 172.4h0M524.9 139.8h0M533.7 157.2h0M532.9 163.5h0M540.6 166.7h0M550.0 161.4h0M553.6 165.6h0M547.3 167.7h0M522.0 171.3h0M529.3 171.3h0M533.5 174.4h0M536.7 177.6h0M537.7 185.9h0M535.6 194.3h0M530.0 201.0h0M520.5 210.0h0M537.1 169.2h0M544.4 165.0h0M550.7 172.3h0M546.5 174.4h0M549.7 181.8h0M553.8 183.8h0M558.0 184.9h0M561.2 187.6h0M551.8 185.9h0M547.6 185.9h0M535.0 186.0h0M536.0 192.2h0M535.0 196.4h0M568.5 189.1h0M575.8 192.2h0M580.0 219.9h0M536.5 171.5h0M531.5 175.5h0M534.5 177.4h0M553.2 169.6h0M537.4 190.2h0M525.6 215.9h0M538.0 175.0h0M546.0 184.0h0M535.5 181.0h0M549.0 178.0h0M543.0 186.0h0" stroke="#0072bd" stroke-width="6.0" stroke-linecap="round" fill="none"/>
<path d="M437.2 146.5h0M474.1 160.9h0M505.0 164.2h0M520.1 128.2h0M558.4 142.6h0M548.4 162.5h0M556.3 161.8h0M527.9 198.1h0M526.2 217.3h0M517.8 234.5h0M572.3 188.5h0M579.0 193.3h0M580.6 194.7h0M594.0 224.7h0M592.0 232.4h0" stroke="#d95319" stroke-width="6.0" stroke-linecap="round" fill="none"/>
<circle cx="217.3" cy="179.7" r="5.4" fill="#66d11a"/>
<circle cx="542.5" cy="179.7" r="5.4" fill="#66d11a"/>
<path d="M107.8 321.4v-3.5M107.8 38.0v3.5M75.0 289.0h3.5M359.6 289.0h-3.5M217.3 321.4v-3.5M217.3 38.0v3.5M75.0 179.7h3.5M359.6 179.7h-3.5M326.8 321.4v-3.5M326.8 38.0v3.5M75.0 70.4h3.5M359.6 70.4h-3.5" stroke="#262626" stroke-width="1.6" fill="none"/>
<rect x="75.0" y="38.0" width="284.6" height="283.4" stroke="#262626" stroke-width="2" fill="none"/>
<path d="M433.0 321.4v-3.5M433.0 38.0v3.5M400.2 289.0h3.5M684.8 289.0h-3.5M542.5 321.4v-3.5M542.5 38.0v3.5M400.2 179.7h3.5M684.8 179.7h-3.5M652.0 321.4v-3.5M652.0 38.0v3.5M400.2 70.4h3.5M684.8 70.4h-3.5" stroke="#262626" stroke-width="1.6" fill="none"/>
<rect x="400.2" y="38.0" width="284.6" height="283.4" stroke="#262626" stroke-width="2" fill="none"/>
<text x="95.80" y="359.00" font-size="27.0">-</text><path transform="translate(104.79 359.00) scale(0.01318 -0.01318)" d="M763 0L583 0L583 1147Q518 1085 412 1023Q306 961 222 930L222 1104Q373 1175 486 1276Q599 1377 646 1472L763 1472Z" fill="#000"/>
<text x="39.80" y="299.00" font-size="27.0">-</text><path transform="translate(48.79 299.00) scale(0.01318 -0.01318)" d="M763 0L583 0L583 1147Q518 1085 412 1023Q306 961 222 930L222 1104Q373 1175 486 1276Q599 1377 646 1472L763 1472Z" fill="#000"/>
<text x="208.99" y="359.00" font-size="27.0">0</text>
<text x="47.79" y="189.70" font-size="27.0">0</text>
<path transform="translate(319.29 359.00) scale(0.01318 -0.01318)" d="M763 0L583 0L583 1147Q518 1085 412 1023Q306 961 222 930L222 1104Q373 1175 486 1276Q599 1377 646 1472L763 1472Z" fill="#000"/>
<path transform="translate(48.79 80.40) scale(0.01318 -0.01318)" d="M763 0L583 0L583 1147Q518 1085 412 1023Q306 961 222 930L222 1104Q373 1175 486 1276Q599 1377 646 1472L763 1472Z" fill="#000"/>
<text x="217.3" y="396" text-anchor="middle" font-size="30">East error [m]</text>
<text x="216.5" y="26.2" text-anchor="middle" font-size="29.8" font-weight="bold">5 epochs</text>
<text x="421.00" y="359.00" font-size="27.0">-</text><path transform="translate(429.99 359.00) scale(0.01318 -0.01318)" d="M763 0L583 0L583 1147Q518 1085 412 1023Q306 961 222 930L222 1104Q373 1175 486 1276Q599 1377 646 1472L763 1472Z" fill="#000"/>
<text x="365.00" y="299.00" font-size="27.0">-</text><path transform="translate(373.99 299.00) scale(0.01318 -0.01318)" d="M763 0L583 0L583 1147Q518 1085 412 1023Q306 961 222 930L222 1104Q373 1175 486 1276Q599 1377 646 1472L763 1472Z" fill="#000"/>
<text x="533.99" y="359.00" font-size="27.0">0</text>
<text x="372.99" y="189.70" font-size="27.0">0</text>
<path transform="translate(644.49 359.00) scale(0.01318 -0.01318)" d="M763 0L583 0L583 1147Q518 1085 412 1023Q306 961 222 930L222 1104Q373 1175 486 1276Q599 1377 646 1472L763 1472Z" fill="#000"/>
<path transform="translate(373.99 80.40) scale(0.01318 -0.01318)" d="M763 0L583 0L583 1147Q518 1085 412 1023Q306 961 222 930L222 1104Q373 1175 486 1276Q599 1377 646 1472L763 1472Z" fill="#000"/>
<text x="542.5" y="396" text-anchor="middle" font-size="30">East error [m]</text>
<text x="542.2" y="26.2" text-anchor="middle" font-size="29.8" font-weight="bold">7 epochs</text>
<text transform="translate(25.5 179.8) rotate(-90)" text-anchor="middle" font-size="29.8">North error [m]</text>
</svg>
</body></html>
